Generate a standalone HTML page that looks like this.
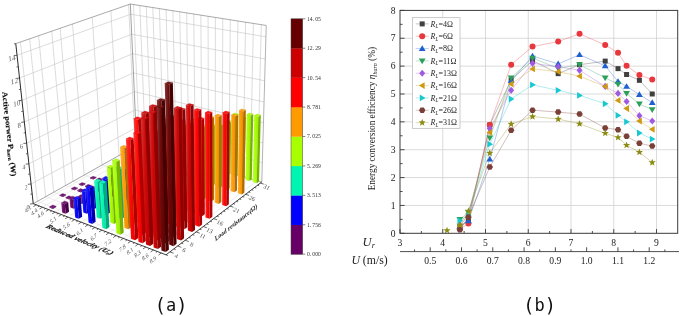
<!DOCTYPE html>
<html><head><meta charset="utf-8"><title>Figure</title>
<style>html,body{margin:0;padding:0;background:#fff}svg{display:block}</style>
</head><body>
<svg width="685" height="316" viewBox="0 0 685 316">
<defs>
<linearGradient id="g0" x1="0" x2="1" y1="0" y2="0"><stop offset="0" stop-color="#883888"/><stop offset="0.45" stop-color="#6c0a6c"/><stop offset="1" stop-color="#5e005e"/></linearGradient>
<linearGradient id="g1" x1="0" x2="1" y1="0" y2="0"><stop offset="0" stop-color="#3838ff"/><stop offset="0.45" stop-color="#0a0aff"/><stop offset="1" stop-color="#0000eb"/></linearGradient>
<linearGradient id="g2" x1="0" x2="1" y1="0" y2="0"><stop offset="0" stop-color="#38f8c1"/><stop offset="0.45" stop-color="#0af6b3"/><stop offset="1" stop-color="#00e2a2"/></linearGradient>
<linearGradient id="g3" x1="0" x2="1" y1="0" y2="0"><stop offset="0" stop-color="#bbff38"/><stop offset="0.45" stop-color="#abff0a"/><stop offset="1" stop-color="#9beb00"/></linearGradient>
<linearGradient id="g4" x1="0" x2="1" y1="0" y2="0"><stop offset="0" stop-color="#ffb038"/><stop offset="0.45" stop-color="#ff9e0a"/><stop offset="1" stop-color="#eb8e00"/></linearGradient>
<linearGradient id="g5" x1="0" x2="1" y1="0" y2="0"><stop offset="0" stop-color="#ff3838"/><stop offset="0.45" stop-color="#ff0a0a"/><stop offset="1" stop-color="#eb0000"/></linearGradient>
<linearGradient id="g6" x1="0" x2="1" y1="0" y2="0"><stop offset="0" stop-color="#d73838"/><stop offset="0.45" stop-color="#ce0a0a"/><stop offset="1" stop-color="#bc0000"/></linearGradient>
<linearGradient id="g7" x1="0" x2="1" y1="0" y2="0"><stop offset="0" stop-color="#883838"/><stop offset="0.45" stop-color="#6c0a0a"/><stop offset="1" stop-color="#5e0000"/></linearGradient>
</defs>
<rect width="685" height="316" fill="#fff"/>
<g fill="none">
<line x1="37.42" y1="201.35" x2="169.95" y2="251.85" stroke="#dcdcdc" stroke-width="0.5"/>
<line x1="45.63" y1="196.74" x2="177.67" y2="245.98" stroke="#dcdcdc" stroke-width="0.5"/>
<line x1="53.67" y1="192.22" x2="185.21" y2="240.25" stroke="#dcdcdc" stroke-width="0.5"/>
<line x1="65.41" y1="185.61" x2="196.17" y2="231.91" stroke="#dcdcdc" stroke-width="0.5"/>
<line x1="73.03" y1="181.33" x2="203.27" y2="226.51" stroke="#dcdcdc" stroke-width="0.5"/>
<line x1="84.18" y1="175.06" x2="213.61" y2="218.65" stroke="#dcdcdc" stroke-width="0.5"/>
<line x1="102.01" y1="165.03" x2="230.06" y2="206.13" stroke="#dcdcdc" stroke-width="0.5"/>
<line x1="118.98" y1="155.49" x2="245.62" y2="194.3" stroke="#dcdcdc" stroke-width="0.5"/>
<line x1="135.14" y1="146.41" x2="260.35" y2="183.09" stroke="#dcdcdc" stroke-width="0.5"/>
<line x1="36.28" y1="204.87" x2="139.62" y2="146.37" stroke="#dcdcdc" stroke-width="0.5"/>
<line x1="42.45" y1="207.25" x2="145.54" y2="148.1" stroke="#dcdcdc" stroke-width="0.5"/>
<line x1="48.71" y1="209.66" x2="151.52" y2="149.84" stroke="#dcdcdc" stroke-width="0.5"/>
<line x1="55.04" y1="212.1" x2="157.57" y2="151.61" stroke="#dcdcdc" stroke-width="0.5"/>
<line x1="61.46" y1="214.57" x2="163.68" y2="153.39" stroke="#dcdcdc" stroke-width="0.5"/>
<line x1="67.97" y1="217.08" x2="169.87" y2="155.19" stroke="#dcdcdc" stroke-width="0.5"/>
<line x1="74.56" y1="219.61" x2="176.13" y2="157.02" stroke="#dcdcdc" stroke-width="0.5"/>
<line x1="81.24" y1="222.19" x2="182.46" y2="158.87" stroke="#dcdcdc" stroke-width="0.5"/>
<line x1="88.01" y1="224.8" x2="188.87" y2="160.74" stroke="#dcdcdc" stroke-width="0.5"/>
<line x1="94.88" y1="227.44" x2="195.35" y2="162.63" stroke="#dcdcdc" stroke-width="0.5"/>
<line x1="101.84" y1="230.12" x2="201.91" y2="164.54" stroke="#dcdcdc" stroke-width="0.5"/>
<line x1="108.9" y1="232.84" x2="208.55" y2="166.48" stroke="#dcdcdc" stroke-width="0.5"/>
<line x1="116.05" y1="235.6" x2="215.26" y2="168.44" stroke="#dcdcdc" stroke-width="0.5"/>
<line x1="123.31" y1="238.39" x2="222.06" y2="170.42" stroke="#dcdcdc" stroke-width="0.5"/>
<line x1="130.67" y1="241.23" x2="228.94" y2="172.43" stroke="#dcdcdc" stroke-width="0.5"/>
<line x1="138.14" y1="244.11" x2="235.9" y2="174.46" stroke="#dcdcdc" stroke-width="0.5"/>
<line x1="145.71" y1="247.02" x2="242.95" y2="176.51" stroke="#dcdcdc" stroke-width="0.5"/>
<line x1="153.4" y1="249.98" x2="250.09" y2="178.6" stroke="#dcdcdc" stroke-width="0.5"/>
<line x1="161.2" y1="252.99" x2="257.31" y2="180.7" stroke="#dcdcdc" stroke-width="0.5"/>
<line x1="37.42" y1="201.35" x2="20.44" y2="42.01" stroke="#c4c4c4" stroke-width="0.6"/>
<line x1="45.63" y1="196.74" x2="29.64" y2="38.83" stroke="#c4c4c4" stroke-width="0.6"/>
<line x1="53.67" y1="192.22" x2="38.62" y2="35.73" stroke="#c4c4c4" stroke-width="0.6"/>
<line x1="65.41" y1="185.61" x2="51.7" y2="31.2" stroke="#c4c4c4" stroke-width="0.6"/>
<line x1="73.03" y1="181.33" x2="60.17" y2="28.27" stroke="#c4c4c4" stroke-width="0.6"/>
<line x1="84.18" y1="175.06" x2="72.53" y2="24" stroke="#c4c4c4" stroke-width="0.6"/>
<line x1="102.01" y1="165.03" x2="92.24" y2="17.19" stroke="#c4c4c4" stroke-width="0.6"/>
<line x1="118.98" y1="155.49" x2="110.9" y2="10.74" stroke="#c4c4c4" stroke-width="0.6"/>
<line x1="135.14" y1="146.41" x2="128.61" y2="4.61" stroke="#c4c4c4" stroke-width="0.6"/>
<line x1="31.09" y1="184.01" x2="135.92" y2="127.92" stroke="#c4c4c4" stroke-width="0.6"/>
<line x1="28.89" y1="163.84" x2="135.11" y2="109.94" stroke="#c4c4c4" stroke-width="0.6"/>
<line x1="26.64" y1="143.18" x2="134.28" y2="91.59" stroke="#c4c4c4" stroke-width="0.6"/>
<line x1="24.33" y1="122.01" x2="133.43" y2="72.85" stroke="#c4c4c4" stroke-width="0.6"/>
<line x1="21.96" y1="100.32" x2="132.57" y2="53.71" stroke="#c4c4c4" stroke-width="0.6"/>
<line x1="19.53" y1="78.07" x2="131.69" y2="34.16" stroke="#c4c4c4" stroke-width="0.6"/>
<line x1="17.04" y1="55.25" x2="130.79" y2="14.18" stroke="#c4c4c4" stroke-width="0.6"/>
<line x1="139.62" y1="146.37" x2="133.47" y2="4.51" stroke="#c4c4c4" stroke-width="0.6"/>
<line x1="145.54" y1="148.1" x2="139.83" y2="5.52" stroke="#c4c4c4" stroke-width="0.6"/>
<line x1="151.52" y1="149.84" x2="146.28" y2="6.53" stroke="#c4c4c4" stroke-width="0.6"/>
<line x1="157.57" y1="151.61" x2="152.81" y2="7.56" stroke="#c4c4c4" stroke-width="0.6"/>
<line x1="163.68" y1="153.39" x2="159.41" y2="8.61" stroke="#c4c4c4" stroke-width="0.6"/>
<line x1="169.87" y1="155.19" x2="166.1" y2="9.66" stroke="#c4c4c4" stroke-width="0.6"/>
<line x1="176.13" y1="157.02" x2="172.88" y2="10.73" stroke="#c4c4c4" stroke-width="0.6"/>
<line x1="182.46" y1="158.87" x2="179.74" y2="11.81" stroke="#c4c4c4" stroke-width="0.6"/>
<line x1="188.87" y1="160.74" x2="186.68" y2="12.91" stroke="#c4c4c4" stroke-width="0.6"/>
<line x1="195.35" y1="162.63" x2="193.72" y2="14.02" stroke="#c4c4c4" stroke-width="0.6"/>
<line x1="201.91" y1="164.54" x2="200.85" y2="15.14" stroke="#c4c4c4" stroke-width="0.6"/>
<line x1="208.55" y1="166.48" x2="208.07" y2="16.28" stroke="#c4c4c4" stroke-width="0.6"/>
<line x1="215.26" y1="168.44" x2="215.38" y2="17.43" stroke="#c4c4c4" stroke-width="0.6"/>
<line x1="222.06" y1="170.42" x2="222.79" y2="18.6" stroke="#c4c4c4" stroke-width="0.6"/>
<line x1="228.94" y1="172.43" x2="230.3" y2="19.79" stroke="#c4c4c4" stroke-width="0.6"/>
<line x1="235.9" y1="174.46" x2="237.9" y2="20.99" stroke="#c4c4c4" stroke-width="0.6"/>
<line x1="242.95" y1="176.51" x2="245.61" y2="22.2" stroke="#c4c4c4" stroke-width="0.6"/>
<line x1="250.09" y1="178.6" x2="253.43" y2="23.44" stroke="#c4c4c4" stroke-width="0.6"/>
<line x1="257.31" y1="180.7" x2="261.35" y2="24.68" stroke="#c4c4c4" stroke-width="0.6"/>
<line x1="135.92" y1="127.92" x2="262.33" y2="162.69" stroke="#c4c4c4" stroke-width="0.6"/>
<line x1="135.11" y1="109.94" x2="262.89" y2="142.93" stroke="#c4c4c4" stroke-width="0.6"/>
<line x1="134.28" y1="91.59" x2="263.47" y2="122.71" stroke="#c4c4c4" stroke-width="0.6"/>
<line x1="133.43" y1="72.85" x2="264.06" y2="102" stroke="#c4c4c4" stroke-width="0.6"/>
<line x1="132.57" y1="53.71" x2="264.66" y2="80.79" stroke="#c4c4c4" stroke-width="0.6"/>
<line x1="131.69" y1="34.16" x2="265.28" y2="59.06" stroke="#c4c4c4" stroke-width="0.6"/>
<line x1="130.79" y1="14.18" x2="265.92" y2="36.8" stroke="#c4c4c4" stroke-width="0.6"/>
<line x1="15.77" y1="43.63" x2="130.33" y2="4.02" stroke="#707070" stroke-width="0.6"/>
<line x1="130.33" y1="4.02" x2="266.24" y2="25.46" stroke="#707070" stroke-width="0.6"/>
<line x1="136.71" y1="145.52" x2="130.33" y2="4.02" stroke="#707070" stroke-width="0.65"/>
<line x1="261.78" y1="182" x2="266.24" y2="25.46" stroke="#909090" stroke-width="0.7"/>
<line x1="33.24" y1="203.7" x2="136.71" y2="145.52" stroke="#7c7c7c" stroke-width="0.7"/>
<line x1="136.71" y1="145.52" x2="261.78" y2="182" stroke="#909090" stroke-width="0.7"/>
</g>
<polygon points="141.06,149.25 144.32,150.21 144.3,149.68 141.04,148.73" fill="url(#g0)"/>
<polygon points="144.32,150.21 146.88,148.74 146.85,148.21 144.3,149.68" fill="#470047"/>
<polygon points="141.04,148.73 144.3,149.68 146.85,148.21 143.6,147.26" fill="#751a75" stroke="#520052" stroke-width="0.25"/>
<polygon points="147.04,151.01 150.33,151.98 150.29,150.98 147,150.02" fill="url(#g0)"/>
<polygon points="150.33,151.98 152.88,150.49 152.84,149.5 150.29,150.98" fill="#470047"/>
<polygon points="147,150.02 150.29,150.98 152.84,149.5 149.55,148.54" fill="#751a75" stroke="#520052" stroke-width="0.25"/>
<polygon points="159.18,154.58 162.55,155.57 162.36,149.26 158.98,148.29" fill="url(#g0)"/>
<polygon points="162.55,155.57 165.08,154.05 164.9,147.76 162.36,149.26" fill="#470047"/>
<polygon points="158.98,148.29 162.36,149.26 164.9,147.76 161.53,146.8" fill="#751a75" stroke="#520052" stroke-width="0.25"/>
<polygon points="124.9,158.49 128.19,159.5 128.16,158.96 124.87,157.96" fill="url(#g0)"/>
<polygon points="128.19,159.5 130.87,157.96 130.84,157.42 128.16,158.96" fill="#470047"/>
<polygon points="124.87,157.96 128.16,158.96 130.84,157.42 127.56,156.42" fill="#751a75" stroke="#520052" stroke-width="0.25"/>
<polygon points="171.61,158.24 175.06,159.25 174.8,147.73 171.33,146.75" fill="url(#g0)"/>
<polygon points="175.06,159.25 177.57,157.7 177.32,146.22 174.8,147.73" fill="#470047"/>
<polygon points="171.33,146.75 174.8,147.73 177.32,146.22 173.86,145.24" fill="#751a75" stroke="#520052" stroke-width="0.25"/>
<polygon points="130.93,160.35 134.25,161.37 134.21,160.63 130.89,159.61" fill="url(#g0)"/>
<polygon points="134.25,161.37 136.92,159.81 136.89,159.07 134.21,160.63" fill="#470047"/>
<polygon points="130.89,159.61 134.21,160.63 136.89,159.07 133.57,158.06" fill="#751a75" stroke="#520052" stroke-width="0.25"/>
<polygon points="184.34,161.98 187.87,163.02 187.57,144.04 184.01,143.05" fill="url(#g1)"/>
<polygon points="187.87,163.02 190.35,161.43 190.09,142.51 187.57,144.04" fill="#0000b2"/>
<polygon points="184.01,143.05 187.57,144.04 190.09,142.51 186.53,141.53" fill="#1a1aff" stroke="#0000cc" stroke-width="0.25"/>
<polygon points="143.19,164.12 146.59,165.16 146.38,159.85 142.97,158.82" fill="url(#g0)"/>
<polygon points="146.59,165.16 149.25,163.57 149.04,158.27 146.38,159.85" fill="#470047"/>
<polygon points="142.97,158.82 146.38,159.85 149.04,158.27 145.64,157.25" fill="#751a75" stroke="#520052" stroke-width="0.25"/>
<polygon points="107.93,168.2 111.24,169.26 111.2,168.71 107.89,167.65" fill="url(#g0)"/>
<polygon points="111.24,169.26 114.06,167.64 114.03,167.09 111.2,168.71" fill="#470047"/>
<polygon points="107.89,167.65 111.2,168.71 114.03,167.09 110.72,166.04" fill="#751a75" stroke="#520052" stroke-width="0.25"/>
<polygon points="197.36,165.81 200.98,166.87 200.76,138.14 197.08,137.15" fill="url(#g1)"/>
<polygon points="200.98,166.87 203.44,165.25 203.26,136.61 200.76,138.14" fill="#0000b2"/>
<polygon points="197.08,137.15 200.76,138.14 203.26,136.61 199.59,135.63" fill="#1a1aff" stroke="#0000cc" stroke-width="0.25"/>
<polygon points="155.74,167.98 159.23,169.05 158.87,157.97 155.36,156.93" fill="url(#g0)"/>
<polygon points="159.23,169.05 161.86,167.42 161.52,156.38 158.87,157.97" fill="#470047"/>
<polygon points="155.36,156.93 158.87,157.97 161.52,156.38 158.02,155.34" fill="#751a75" stroke="#520052" stroke-width="0.25"/>
<polygon points="114,170.15 117.35,171.23 117.31,170.39 113.95,169.32" fill="url(#g0)"/>
<polygon points="117.35,171.23 120.17,169.59 120.12,168.75 117.31,170.39" fill="#470047"/>
<polygon points="113.95,169.32 117.31,170.39 120.12,168.75 116.77,167.69" fill="#751a75" stroke="#520052" stroke-width="0.25"/>
<polygon points="210.7,169.73 214.4,170.82 214.41,131.82 210.63,130.84" fill="url(#g2)"/>
<polygon points="214.4,170.82 216.84,169.16 216.9,130.29 214.41,131.82" fill="#00ac7b"/>
<polygon points="210.63,130.84 214.41,131.82 216.9,130.29 213.12,129.32" fill="#1af7b8" stroke="#00c58d" stroke-width="0.25"/>
<polygon points="168.6,171.93 172.17,173.03 171.66,152.6 168.05,151.56" fill="url(#g1)"/>
<polygon points="172.17,173.03 174.78,171.36 174.31,151 171.66,152.6" fill="#0000b2"/>
<polygon points="168.05,151.56 171.66,152.6 174.31,151 170.71,149.96" fill="#1a1aff" stroke="#0000cc" stroke-width="0.25"/>
<polygon points="126.38,174.14 129.81,175.25 129.44,167.95 126,166.87" fill="url(#g0)"/>
<polygon points="129.81,175.25 132.6,173.57 132.25,166.3 129.44,167.95" fill="#470047"/>
<polygon points="126,166.87 129.44,167.95 132.25,166.3 128.81,165.22" fill="#751a75" stroke="#520052" stroke-width="0.25"/>
<polygon points="90.08,178.4 93.41,179.53 93.37,178.97 90.03,177.84" fill="url(#g0)"/>
<polygon points="93.41,179.53 96.38,177.82 96.34,177.26 93.37,178.97" fill="#470047"/>
<polygon points="90.03,177.84 93.37,178.97 96.34,177.26 93.01,176.15" fill="#751a75" stroke="#520052" stroke-width="0.25"/>
<polygon points="224.36,173.75 228.16,174.86 228.59,123.45 224.68,122.47" fill="url(#g3)"/>
<polygon points="228.16,174.86 230.56,173.17 231.07,121.93 228.59,123.45" fill="#76b200"/>
<polygon points="224.68,122.47 228.59,123.45 231.07,121.93 227.17,120.96" fill="#b1ff1a" stroke="#86cc00" stroke-width="0.25"/>
<polygon points="181.77,175.98 185.43,177.11 184.9,145.97 181.18,144.93" fill="url(#g1)"/>
<polygon points="185.43,177.11 188.02,175.4 187.54,144.37 184.9,145.97" fill="#0000b2"/>
<polygon points="181.18,144.93 184.9,145.97 187.54,144.37 183.82,143.34" fill="#1a1aff" stroke="#0000cc" stroke-width="0.25"/>
<polygon points="139.05,178.22 142.57,179.36 141.94,164.61 138.39,163.52" fill="url(#g0)"/>
<polygon points="142.57,179.36 145.34,177.64 144.74,162.94 141.94,164.61" fill="#470047"/>
<polygon points="138.39,163.52 141.94,164.61 144.74,162.94 141.2,161.86" fill="#751a75" stroke="#520052" stroke-width="0.25"/>
<polygon points="96.2,180.47 99.58,181.61 99.52,180.69 96.14,179.55" fill="url(#g0)"/>
<polygon points="99.58,181.61 102.54,179.89 102.48,178.97 99.52,180.69" fill="#470047"/>
<polygon points="96.14,179.55 99.52,180.69 102.48,178.97 99.1,177.84" fill="#751a75" stroke="#520052" stroke-width="0.25"/>
<polygon points="231.32,175.79 235.16,176.92 235.94,115.38 231.95,114.43" fill="url(#g3)"/>
<polygon points="235.16,176.92 237.55,175.21 238.41,113.88 235.94,115.38" fill="#76b200"/>
<polygon points="231.95,114.43 235.94,115.38 238.41,113.88 234.44,112.93" fill="#b1ff1a" stroke="#86cc00" stroke-width="0.25"/>
<polygon points="238.36,177.86 242.25,179.01 243.26,118.86 239.24,117.88" fill="url(#g3)"/>
<polygon points="242.25,179.01 244.63,177.28 245.72,117.33 243.26,118.86" fill="#76b200"/>
<polygon points="239.24,117.88 243.26,118.86 245.72,117.33 241.7,116.37" fill="#b1ff1a" stroke="#86cc00" stroke-width="0.25"/>
<polygon points="195.27,180.13 199.01,181.28 198.62,137.85 194.78,136.82" fill="url(#g2)"/>
<polygon points="199.01,181.28 201.58,179.54 201.26,136.25 198.62,137.85" fill="#00ac7b"/>
<polygon points="194.78,136.82 198.62,137.85 201.26,136.25 197.42,135.23" fill="#1af7b8" stroke="#00c58d" stroke-width="0.25"/>
<polygon points="78.92,184.78 82.27,185.95 82.23,185.38 78.87,184.22" fill="url(#g0)"/>
<polygon points="82.27,185.95 85.33,184.18 85.29,183.62 82.23,185.38" fill="#470047"/>
<polygon points="78.87,184.22 82.23,185.38 85.29,183.62 81.94,182.46" fill="#751a75" stroke="#520052" stroke-width="0.25"/>
<polygon points="152.04,182.41 155.64,183.57 154.76,158.37 151.11,157.28" fill="url(#g1)"/>
<polygon points="155.64,183.57 158.4,181.81 157.56,156.7 154.76,158.37" fill="#0000b2"/>
<polygon points="151.11,157.28 154.76,158.37 157.56,156.7 153.91,155.62" fill="#1a1aff" stroke="#0000cc" stroke-width="0.25"/>
<polygon points="108.68,184.69 112.14,185.86 111.63,177.44 108.15,176.29" fill="url(#g0)"/>
<polygon points="112.14,185.86 115.08,184.09 114.59,175.7 111.63,177.44" fill="#470047"/>
<polygon points="108.15,176.29 111.63,177.44 114.59,175.7 111.12,174.56" fill="#751a75" stroke="#520052" stroke-width="0.25"/>
<polygon points="245.49,179.96 249.43,181.12 250.82,115.45 246.72,114.48" fill="url(#g3)"/>
<polygon points="249.43,181.12 251.79,179.37 253.26,113.93 250.82,115.45" fill="#76b200"/>
<polygon points="246.72,114.48 250.82,115.45 253.26,113.93 249.18,112.97" fill="#b1ff1a" stroke="#86cc00" stroke-width="0.25"/>
<polygon points="85.07,186.92 88.46,188.11 88.4,187.31 85.01,186.13" fill="url(#g0)"/>
<polygon points="88.46,188.11 91.52,186.32 91.46,185.52 88.4,187.31" fill="#470047"/>
<polygon points="85.01,186.13 88.4,187.31 91.46,185.52 88.07,184.35" fill="#751a75" stroke="#520052" stroke-width="0.25"/>
<polygon points="71.28,189.15 74.64,190.34 74.59,189.76 71.23,188.56" fill="url(#g0)"/>
<polygon points="74.64,190.34 77.77,188.54 77.72,187.96 74.59,189.76" fill="#470047"/>
<polygon points="71.23,188.56 74.59,189.76 77.72,187.96 74.36,186.77" fill="#751a75" stroke="#520052" stroke-width="0.25"/>
<polygon points="252.71,182.08 256.7,183.25 258.4,116.63 254.25,115.65" fill="url(#g3)"/>
<polygon points="256.7,183.25 259.04,181.48 260.82,115.09 258.4,116.63" fill="#76b200"/>
<polygon points="254.25,115.65 258.4,116.63 260.82,115.09 256.69,114.11" fill="#b1ff1a" stroke="#86cc00" stroke-width="0.25"/>
<polygon points="209.1,184.39 212.94,185.57 212.9,126.14 208.93,125.12" fill="url(#g3)"/>
<polygon points="212.94,185.57 215.47,183.78 215.53,124.56 212.9,126.14" fill="#76b200"/>
<polygon points="208.93,125.12 212.9,126.14 215.53,124.56 211.56,123.55" fill="#b1ff1a" stroke="#86cc00" stroke-width="0.25"/>
<polygon points="165.35,186.7 169.05,187.89 168.04,150.29 164.26,149.2" fill="url(#g2)"/>
<polygon points="169.05,187.89 171.78,186.09 170.83,148.62 168.04,150.29" fill="#00ac7b"/>
<polygon points="164.26,149.2 168.04,150.29 170.83,148.62 167.06,147.54" fill="#1af7b8" stroke="#00c58d" stroke-width="0.25"/>
<polygon points="121.47,189.02 125.02,190.22 124.13,173.46 120.54,172.31" fill="url(#g0)"/>
<polygon points="125.02,190.22 127.94,188.41 127.08,171.71 124.13,173.46" fill="#470047"/>
<polygon points="120.54,172.31 124.13,173.46 127.08,171.71 123.51,170.57" fill="#751a75" stroke="#520052" stroke-width="0.25"/>
<polygon points="77.45,191.34 80.86,192.55 80.78,191.54 77.37,190.33" fill="url(#g0)"/>
<polygon points="80.86,192.55 83.98,190.73 83.9,189.72 80.78,191.54" fill="#470047"/>
<polygon points="77.37,190.33 80.78,191.54 83.9,189.72 80.5,188.53" fill="#751a75" stroke="#520052" stroke-width="0.25"/>
<polygon points="216.14,186.55 220.03,187.75 220.26,126.21 216.23,125.19" fill="url(#g3)"/>
<polygon points="220.03,187.75 222.55,185.95 222.87,124.62 220.26,126.21" fill="#76b200"/>
<polygon points="216.23,125.19 220.26,126.21 222.87,124.62 218.85,123.61" fill="#b1ff1a" stroke="#86cc00" stroke-width="0.25"/>
<polygon points="97.61,191.29 101.09,192.5 100.49,183.65 96.99,182.46" fill="url(#g0)"/>
<polygon points="101.09,192.5 104.13,190.68 103.54,181.85 100.49,183.65" fill="#470047"/>
<polygon points="96.99,182.46 100.49,183.65 103.54,181.85 100.05,180.68" fill="#751a75" stroke="#520052" stroke-width="0.25"/>
<polygon points="223.28,188.75 227.22,189.96 227.76,122.06 223.66,121.04" fill="url(#g3)"/>
<polygon points="227.22,189.96 229.72,188.13 230.36,120.47 227.76,122.06" fill="#76b200"/>
<polygon points="223.66,121.04 227.76,122.06 230.36,120.47 226.27,119.46" fill="#b1ff1a" stroke="#86cc00" stroke-width="0.25"/>
<polygon points="179,191.1 182.79,192.32 181.83,140.82 177.92,139.74" fill="url(#g2)"/>
<polygon points="182.79,192.32 185.49,190.48 184.62,139.16 181.83,140.82" fill="#00ac7b"/>
<polygon points="177.92,139.74 181.83,140.82 184.62,139.16 180.72,138.09" fill="#1af7b8" stroke="#00c58d" stroke-width="0.25"/>
<polygon points="59.52,195.87 62.89,197.11 62.84,196.53 59.47,195.29" fill="url(#g0)"/>
<polygon points="62.89,197.11 66.12,195.25 66.07,194.67 62.84,196.53" fill="#470047"/>
<polygon points="59.47,195.29 62.84,196.53 66.07,194.67 62.7,193.45" fill="#751a75" stroke="#520052" stroke-width="0.25"/>
<polygon points="134.58,193.45 138.22,194.68 136.93,166.16 133.23,165.01" fill="url(#g1)"/>
<polygon points="138.22,194.68 141.13,192.83 139.88,164.41 136.93,166.16" fill="#0000b2"/>
<polygon points="133.23,165.01 136.93,166.16 139.88,164.41 136.19,163.27" fill="#1a1aff" stroke="#0000cc" stroke-width="0.25"/>
<polygon points="90.03,195.81 93.52,197.05 92.93,188.94 89.42,187.72" fill="url(#g0)"/>
<polygon points="93.52,197.05 96.62,195.19 96.05,187.1 92.93,188.94" fill="#470047"/>
<polygon points="89.42,187.72 92.93,188.94 96.05,187.1 92.55,185.89" fill="#751a75" stroke="#520052" stroke-width="0.25"/>
<polygon points="230.51,190.97 234.5,192.2 235.43,116.58 231.26,115.57" fill="url(#g4)"/>
<polygon points="234.5,192.2 236.98,190.35 238.03,114.99 235.43,116.58" fill="#b26c00"/>
<polygon points="231.26,115.57 235.43,116.58 238.03,114.99 233.86,114" fill="#ffa41a" stroke="#cc7b00" stroke-width="0.25"/>
<polygon points="110.46,195.77 114.03,197.01 113.06,180.79 109.46,179.59" fill="url(#g0)"/>
<polygon points="114.03,197.01 117.05,195.14 116.11,178.98 113.06,180.79" fill="#470047"/>
<polygon points="109.46,179.59 113.06,180.79 116.11,178.98 112.51,177.79" fill="#751a75" stroke="#520052" stroke-width="0.25"/>
<polygon points="65.71,198.14 69.13,199.4 69.08,198.78 65.66,197.53" fill="url(#g0)"/>
<polygon points="69.13,199.4 72.36,197.51 72.3,196.9 69.08,198.78" fill="#470047"/>
<polygon points="65.66,197.53 69.08,198.78 72.3,196.9 68.89,195.66" fill="#751a75" stroke="#520052" stroke-width="0.25"/>
<polygon points="237.83,193.22 241.87,194.46 243.26,111.47 239.01,110.47" fill="url(#g4)"/>
<polygon points="241.87,194.46 244.34,192.6 245.85,109.9 243.26,111.47" fill="#b26c00"/>
<polygon points="239.01,110.47 243.26,111.47 245.85,109.9 241.61,108.91" fill="#ffa41a" stroke="#cc7b00" stroke-width="0.25"/>
<polygon points="193,195.61 196.89,196.86 196.17,126.76 192.12,125.71" fill="url(#g3)"/>
<polygon points="196.89,196.86 199.56,194.98 198.96,125.12 196.17,126.76" fill="#76b200"/>
<polygon points="192.12,125.71 196.17,126.76 198.96,125.12 194.92,124.08" fill="#b1ff1a" stroke="#86cc00" stroke-width="0.25"/>
<polygon points="148.03,198 151.77,199.26 150.14,155.72 146.31,154.59" fill="url(#g2)"/>
<polygon points="151.77,199.26 154.65,197.36 153.1,153.98 150.14,155.72" fill="#00ac7b"/>
<polygon points="146.31,154.59 150.14,155.72 153.1,153.98 149.28,152.85" fill="#1af7b8" stroke="#00c58d" stroke-width="0.25"/>
<polygon points="102.93,200.4 106.51,201.67 105.35,183.86 101.74,182.64" fill="url(#g1)"/>
<polygon points="106.51,201.67 109.59,199.76 108.48,182.01 105.35,183.86" fill="#0000b2"/>
<polygon points="101.74,182.64 105.35,183.86 108.48,182.01 104.87,180.8" fill="#1a1aff" stroke="#0000cc" stroke-width="0.25"/>
<polygon points="123.65,200.36 127.31,201.64 125.75,171.77 122.03,170.58" fill="url(#g1)"/>
<polygon points="127.31,201.64 130.31,199.73 128.81,169.96 125.75,171.77" fill="#0000b2"/>
<polygon points="122.03,170.58 125.75,171.77 128.81,169.96 125.09,168.78" fill="#1a1aff" stroke="#0000cc" stroke-width="0.25"/>
<polygon points="200.14,197.9 204.07,199.17 203.65,127.32 199.54,126.26" fill="url(#g3)"/>
<polygon points="204.07,199.17 206.74,197.27 206.42,125.67 203.65,127.32" fill="#76b200"/>
<polygon points="199.54,126.26 203.65,127.32 206.42,125.67 202.33,124.62" fill="#b1ff1a" stroke="#86cc00" stroke-width="0.25"/>
<polygon points="78.34,202.77 81.85,204.06 81.34,197.68 77.82,196.41" fill="url(#g0)"/>
<polygon points="81.85,204.06 85.06,202.13 84.57,195.77 81.34,197.68" fill="#470047"/>
<polygon points="77.82,196.41 81.34,197.68 84.57,195.77 81.05,194.52" fill="#751a75" stroke="#520052" stroke-width="0.25"/>
<polygon points="207.36,200.23 211.36,201.52 211.23,118.7 207.04,117.66" fill="url(#g4)"/>
<polygon points="211.36,201.52 214,199.59 214,117.06 211.23,118.7" fill="#b26c00"/>
<polygon points="207.04,117.66 211.23,118.7 214,117.06 209.82,116.03" fill="#ffa41a" stroke="#cc7b00" stroke-width="0.25"/>
<polygon points="161.84,202.66 165.67,203.96 163.91,143.76 159.95,142.64" fill="url(#g3)"/>
<polygon points="165.67,203.96 168.52,202.02 166.88,142.03 163.91,143.76" fill="#76b200"/>
<polygon points="159.95,142.64 163.91,143.76 166.88,142.03 162.92,140.92" fill="#b1ff1a" stroke="#86cc00" stroke-width="0.25"/>
<polygon points="49.46,207.56 52.9,208.88 52.83,208.19 49.39,206.87" fill="url(#g0)"/>
<polygon points="52.9,208.88 56.26,206.91 56.2,206.22 52.83,208.19" fill="#470047"/>
<polygon points="49.39,206.87 52.83,208.19 56.2,206.22 52.76,204.92" fill="#751a75" stroke="#520052" stroke-width="0.25"/>
<polygon points="116.16,205.1 119.84,206.41 118.07,175.33 114.33,174.11" fill="url(#g1)"/>
<polygon points="119.84,206.41 122.9,204.45 121.2,173.48 118.07,175.33" fill="#0000b2"/>
<polygon points="114.33,174.11 118.07,175.33 121.2,173.48 117.47,172.27" fill="#1a1aff" stroke="#0000cc" stroke-width="0.25"/>
<polygon points="70.34,207.55 73.86,208.86 73.06,199.44 69.52,198.15" fill="url(#g0)"/>
<polygon points="73.86,208.86 77.14,206.89 76.36,197.5 73.06,199.44" fill="#470047"/>
<polygon points="69.52,198.15 73.06,199.44 76.36,197.5 72.83,196.22" fill="#751a75" stroke="#520052" stroke-width="0.25"/>
<polygon points="137.18,205.08 140.94,206.39 138.93,160.89 135.08,159.71" fill="url(#g2)"/>
<polygon points="140.94,206.39 143.92,204.43 142,159.09 138.93,160.89" fill="#00ac7b"/>
<polygon points="135.08,159.71 138.93,160.89 142,159.09 138.15,157.92" fill="#1af7b8" stroke="#00c58d" stroke-width="0.25"/>
<polygon points="214.69,202.59 218.73,203.9 218.98,116.79 214.73,115.74" fill="url(#g4)"/>
<polygon points="218.73,203.9 221.36,201.94 221.75,115.15 218.98,116.79" fill="#b26c00"/>
<polygon points="214.73,115.74 218.98,116.79 221.75,115.15 217.5,114.11" fill="#ffa41a" stroke="#cc7b00" stroke-width="0.25"/>
<polygon points="91.31,207.53 94.91,208.85 93.63,191.15 89.99,189.88" fill="url(#g1)"/>
<polygon points="94.91,208.85 98.1,206.87 96.86,189.23 93.63,191.15" fill="#0000b2"/>
<polygon points="89.99,189.88 93.63,191.15 96.86,189.23 93.23,187.97" fill="#1a1aff" stroke="#0000cc" stroke-width="0.25"/>
<polygon points="222.11,204.98 226.2,206.3 226.89,113.73 222.56,112.69" fill="url(#g5)"/>
<polygon points="226.2,206.3 228.82,204.33 229.65,112.09 226.89,113.73" fill="#b20000"/>
<polygon points="222.56,112.69 226.89,113.73 229.65,112.09 225.33,111.06" fill="#ff1a1a" stroke="#cc0000" stroke-width="0.25"/>
<polygon points="176,207.45 179.94,208.78 178.25,127.12 174.13,126.03" fill="url(#g4)"/>
<polygon points="179.94,208.78 182.77,206.79 181.23,125.42 178.25,127.12" fill="#b26c00"/>
<polygon points="174.13,126.03 178.25,127.12 181.23,125.42 177.11,124.35" fill="#ffa41a" stroke="#cc7b00" stroke-width="0.25"/>
<polygon points="62.16,212.42 65.69,213.77 64.83,204.27 61.28,202.95" fill="url(#g0)"/>
<polygon points="65.69,213.77 69.04,211.76 68.21,202.29 64.83,204.27" fill="#470047"/>
<polygon points="61.28,202.95 64.83,204.27 68.21,202.29 64.66,200.98" fill="#751a75" stroke="#520052" stroke-width="0.25"/>
<polygon points="129.75,209.93 133.52,211.27 131.3,165.86 127.43,164.65" fill="url(#g2)"/>
<polygon points="133.52,211.27 136.57,209.27 134.44,164.01 131.3,165.86" fill="#00ac7b"/>
<polygon points="127.43,164.65 131.3,165.86 134.44,164.01 130.58,162.81" fill="#1af7b8" stroke="#00c58d" stroke-width="0.25"/>
<polygon points="83.34,212.42 86.95,213.77 85.26,191.86 81.61,190.57" fill="url(#g1)"/>
<polygon points="86.95,213.77 90.22,211.75 88.58,189.91 85.26,191.86" fill="#0000b2"/>
<polygon points="81.61,190.57 85.26,191.86 88.58,189.91 84.93,188.64" fill="#1a1aff" stroke="#0000cc" stroke-width="0.25"/>
<polygon points="151.07,209.92 154.93,211.26 152.66,147.92 148.66,146.76" fill="url(#g3)"/>
<polygon points="154.93,211.26 157.89,209.25 155.74,146.13 152.66,147.92" fill="#76b200"/>
<polygon points="148.66,146.76 152.66,147.92 155.74,146.13 151.75,144.99" fill="#b1ff1a" stroke="#86cc00" stroke-width="0.25"/>
<polygon points="104.61,212.41 108.31,213.76 106.1,179.41 102.34,178.15" fill="url(#g1)"/>
<polygon points="108.31,213.76 111.48,211.74 109.35,177.51 106.1,179.41" fill="#0000b2"/>
<polygon points="102.34,178.15 106.1,179.41 109.35,177.51 105.59,176.26" fill="#1a1aff" stroke="#0000cc" stroke-width="0.25"/>
<polygon points="183.23,209.9 187.21,211.24 185.86,127.95 181.68,126.86" fill="url(#g4)"/>
<polygon points="187.21,211.24 190.03,209.23 188.82,126.24 185.86,127.95" fill="#b26c00"/>
<polygon points="181.68,126.86 185.86,127.95 188.82,126.24 184.65,125.15" fill="#ffa41a" stroke="#cc7b00" stroke-width="0.25"/>
<polygon points="190.55,212.37 194.59,213.74 193.5,121.31 189.24,120.22" fill="url(#g4)"/>
<polygon points="194.59,213.74 197.39,211.7 196.46,119.61 193.5,121.31" fill="#b26c00"/>
<polygon points="189.24,120.22 193.5,121.31 196.46,119.61 192.2,118.53" fill="#ffa41a" stroke="#cc7b00" stroke-width="0.25"/>
<polygon points="75.2,217.41 78.82,218.8 77.23,199.49 73.57,198.15" fill="url(#g1)"/>
<polygon points="78.82,218.8 82.16,216.74 80.61,197.49 77.23,199.49" fill="#0000b2"/>
<polygon points="73.57,198.15 77.23,199.49 80.61,197.49 76.96,196.17" fill="#1a1aff" stroke="#0000cc" stroke-width="0.25"/>
<polygon points="143.7,214.89 147.57,216.27 144.9,150.09 140.88,148.91" fill="url(#g3)"/>
<polygon points="147.57,216.27 150.59,214.21 148.05,148.28 144.9,150.09" fill="#76b200"/>
<polygon points="140.88,148.91 144.9,150.09 148.05,148.28 144.04,147.11" fill="#b1ff1a" stroke="#86cc00" stroke-width="0.25"/>
<polygon points="96.69,217.42 100.4,218.81 97.86,182.16 94.08,180.88" fill="url(#g2)"/>
<polygon points="100.4,218.81 103.65,216.74 101.19,180.22 97.86,182.16" fill="#00ac7b"/>
<polygon points="94.08,180.88 97.86,182.16 101.19,180.22 97.41,178.95" fill="#1af7b8" stroke="#00c58d" stroke-width="0.25"/>
<polygon points="165.34,214.88 169.3,216.27 167.05,133.51 162.9,132.38" fill="url(#g4)"/>
<polygon points="169.3,216.27 172.23,214.21 170.13,131.75 167.05,133.51" fill="#b26c00"/>
<polygon points="162.9,132.38 167.05,133.51 170.13,131.75 165.99,130.63" fill="#ffa41a" stroke="#cc7b00" stroke-width="0.25"/>
<polygon points="118.27,217.42 122.07,218.81 119.3,169.34 115.4,168.09" fill="url(#g2)"/>
<polygon points="122.07,218.81 125.22,216.74 122.56,167.44 119.3,169.34" fill="#00ac7b"/>
<polygon points="115.4,168.09 119.3,169.34 122.56,167.44 118.66,166.21" fill="#1af7b8" stroke="#00c58d" stroke-width="0.25"/>
<polygon points="197.97,214.88 202.06,216.26 201.36,119.85 197.03,118.76" fill="url(#g5)"/>
<polygon points="202.06,216.26 204.84,214.2 204.31,118.14 201.36,119.85" fill="#b20000"/>
<polygon points="197.03,118.76 201.36,119.85 204.31,118.14 199.99,117.06" fill="#ff1a1a" stroke="#cc0000" stroke-width="0.25"/>
<polygon points="172.61,217.42 176.63,218.82 174.6,129.74 170.38,128.61" fill="url(#g4)"/>
<polygon points="176.63,218.82 179.54,216.74 177.68,127.98 174.6,129.74" fill="#b26c00"/>
<polygon points="170.38,128.61 174.6,129.74 177.68,127.98 173.46,126.87" fill="#ffa41a" stroke="#cc7b00" stroke-width="0.25"/>
<polygon points="205.48,217.42 209.64,218.83 209.36,113.85 204.94,112.77" fill="url(#g5)"/>
<polygon points="209.64,218.83 212.4,216.73 212.3,112.15 209.36,113.85" fill="#b20000"/>
<polygon points="204.94,112.77 209.36,113.85 212.3,112.15 207.9,111.08" fill="#ff1a1a" stroke="#cc0000" stroke-width="0.25"/>
<polygon points="88.59,222.54 92.31,223.97 89.67,188.49 85.88,187.17" fill="url(#g1)"/>
<polygon points="92.31,223.97 95.63,221.85 93.08,186.5 89.67,188.49" fill="#0000b2"/>
<polygon points="85.88,187.17 89.67,188.49 93.08,186.5 89.29,185.19" fill="#1a1aff" stroke="#0000cc" stroke-width="0.25"/>
<polygon points="158.02,219.98 162.01,221.4 159.19,132.72 155.01,131.57" fill="url(#g4)"/>
<polygon points="162.01,221.4 165,219.29 162.36,130.94 159.19,132.72" fill="#b26c00"/>
<polygon points="155.01,131.57 159.19,132.72 162.36,130.94 158.18,129.8" fill="#ffa41a" stroke="#cc7b00" stroke-width="0.25"/>
<polygon points="110.4,222.55 114.22,223.98 110.81,168.22 106.88,166.96" fill="url(#g3)"/>
<polygon points="114.22,223.98 117.44,221.86 114.16,166.3 110.81,168.22" fill="#76b200"/>
<polygon points="106.88,166.96 110.81,168.22 114.16,166.3 110.24,165.05" fill="#b1ff1a" stroke="#86cc00" stroke-width="0.25"/>
<polygon points="179.99,219.99 184.06,221.41 182.25,122.17 177.94,121.06" fill="url(#g5)"/>
<polygon points="184.06,221.41 186.96,219.3 185.33,120.43 182.25,122.17" fill="#b20000"/>
<polygon points="177.94,121.06 182.25,122.17 185.33,120.43 181.03,119.33" fill="#ff1a1a" stroke="#cc0000" stroke-width="0.25"/>
<polygon points="132.31,222.56 136.21,223.99 132.82,152.78 128.76,151.56" fill="url(#g3)"/>
<polygon points="136.21,223.99 139.34,221.87 136.1,150.91 132.82,152.78" fill="#76b200"/>
<polygon points="128.76,151.56 132.82,152.78 136.1,150.91 132.05,149.7" fill="#b1ff1a" stroke="#86cc00" stroke-width="0.25"/>
<polygon points="165.33,222.58 169.37,224.02 166.75,127.88 162.49,126.74" fill="url(#g5)"/>
<polygon points="169.37,224.02 172.35,221.88 169.92,126.1 166.75,127.88" fill="#b20000"/>
<polygon points="162.49,126.74 166.75,127.88 169.92,126.1 165.66,124.97" fill="#ff1a1a" stroke="#cc0000" stroke-width="0.25"/>
<polygon points="187.46,222.59 191.59,224.03 190.25,125.59 185.88,124.46" fill="url(#g5)"/>
<polygon points="191.59,224.03 194.47,221.89 193.31,123.82 190.25,125.59" fill="#b20000"/>
<polygon points="185.88,124.46 190.25,125.59 193.31,123.82 188.95,122.7" fill="#ff1a1a" stroke="#cc0000" stroke-width="0.25"/>
<polygon points="102.35,227.81 106.18,229.27 103.17,183.82 99.25,182.49" fill="url(#g2)"/>
<polygon points="106.18,229.27 109.48,227.1 106.58,181.81 103.17,183.82" fill="#00ac7b"/>
<polygon points="99.25,182.49 103.17,183.82 106.58,181.81 102.66,180.5" fill="#1af7b8" stroke="#00c58d" stroke-width="0.25"/>
<polygon points="172.74,225.22 176.84,226.67 174.41,119.98 170.06,118.86" fill="url(#g5)"/>
<polygon points="176.84,226.67 179.8,224.51 177.58,118.22 174.41,119.98" fill="#b20000"/>
<polygon points="170.06,118.86 174.41,119.98 177.58,118.22 173.24,117.11" fill="#ff1a1a" stroke="#cc0000" stroke-width="0.25"/>
<polygon points="124.49,227.83 128.41,229.3 124.16,148.36 120.07,147.14" fill="url(#g4)"/>
<polygon points="128.41,229.3 131.61,227.12 127.54,146.48 124.16,148.36" fill="#b26c00"/>
<polygon points="120.07,147.14 124.16,148.36 127.54,146.48 123.45,145.28" fill="#ffa41a" stroke="#cc7b00" stroke-width="0.25"/>
<polygon points="195.04,225.23 199.23,226.69 198.19,111.21 193.71,110.11" fill="url(#g5)"/>
<polygon points="199.23,226.69 202.09,224.53 201.26,109.48 198.19,111.21" fill="#b20000"/>
<polygon points="193.71,110.11 198.19,111.21 201.26,109.48 196.79,108.4" fill="#ff1a1a" stroke="#cc0000" stroke-width="0.25"/>
<polygon points="146.73,227.85 150.74,229.32 146.97,132.09 142.73,130.92" fill="url(#g5)"/>
<polygon points="150.74,229.32 153.84,227.14 150.27,130.27 146.97,132.09" fill="#b20000"/>
<polygon points="142.73,130.92 146.97,132.09 150.27,130.27 146.05,129.11" fill="#ff1a1a" stroke="#cc0000" stroke-width="0.25"/>
<polygon points="180.26,227.89 184.41,229.36 182.25,110.5 177.81,109.4" fill="url(#g6)"/>
<polygon points="184.41,229.36 187.36,227.17 185.43,108.76 182.25,110.5" fill="#8f0000"/>
<polygon points="177.81,109.4 182.25,110.5 185.43,108.76 180.99,107.68" fill="#d11a1a" stroke="#a30000" stroke-width="0.25"/>
<polygon points="154.09,230.55 158.16,232.04 154.75,132.64 150.45,131.46" fill="url(#g5)"/>
<polygon points="158.16,232.04 161.24,229.83 158.04,130.8 154.75,132.64" fill="#b20000"/>
<polygon points="150.45,131.46 154.75,132.64 158.04,130.8 153.75,129.63" fill="#ff1a1a" stroke="#cc0000" stroke-width="0.25"/>
<polygon points="116.5,233.22 120.43,234.73 116.24,161.93 112.14,160.65" fill="url(#g3)"/>
<polygon points="120.43,234.73 123.71,232.5 119.68,159.97 116.24,161.93" fill="#76b200"/>
<polygon points="112.14,160.65 116.24,161.93 119.68,159.97 115.59,158.7" fill="#b1ff1a" stroke="#86cc00" stroke-width="0.25"/>
<polygon points="187.88,230.6 192.09,232.09 190.39,106.29 185.87,105.19" fill="url(#g6)"/>
<polygon points="192.09,232.09 195.02,229.88 193.56,104.55 190.39,106.29" fill="#8f0000"/>
<polygon points="185.87,105.19 190.39,106.29 193.56,104.55 189.05,103.47" fill="#d11a1a" stroke="#a30000" stroke-width="0.25"/>
<polygon points="138.98,233.25 143.01,234.76 137.98,119.72 133.69,118.58" fill="url(#g5)"/>
<polygon points="143.01,234.76 146.18,232.53 141.4,117.93 137.98,119.72" fill="#b20000"/>
<polygon points="133.69,118.58 137.98,119.72 141.4,117.93 137.12,116.8" fill="#ff1a1a" stroke="#cc0000" stroke-width="0.25"/>
<polygon points="161.56,233.29 165.68,234.8 162.29,120.85 157.89,119.7" fill="url(#g5)"/>
<polygon points="165.68,234.8 168.75,232.56 165.6,119.05 162.29,120.85" fill="#b20000"/>
<polygon points="157.89,119.7 162.29,120.85 165.6,119.05 161.21,117.91" fill="#ff1a1a" stroke="#cc0000" stroke-width="0.25"/>
<polygon points="146.37,236.02 150.46,237.56 145.62,114.02 141.24,112.88" fill="url(#g6)"/>
<polygon points="150.46,237.56 153.62,235.29 149.04,112.23 145.62,114.02" fill="#8f0000"/>
<polygon points="141.24,112.88 145.62,114.02 149.04,112.23 144.68,111.11" fill="#d11a1a" stroke="#a30000" stroke-width="0.25"/>
<polygon points="169.13,236.07 173.31,237.6 170.29,117.37 165.82,116.22" fill="url(#g6)"/>
<polygon points="173.31,237.6 176.36,235.33 173.59,115.57 170.29,117.37" fill="#8f0000"/>
<polygon points="165.82,116.22 170.29,117.37 173.59,115.57 169.12,114.43" fill="#d11a1a" stroke="#a30000" stroke-width="0.25"/>
<polygon points="131.04,238.79 135.09,240.34 130.21,140.19 125.93,138.96" fill="url(#g5)"/>
<polygon points="135.09,240.34 138.34,238.05 133.68,138.28 130.21,140.19" fill="#b20000"/>
<polygon points="125.93,138.96 130.21,140.19 133.68,138.28 129.41,137.06" fill="#ff1a1a" stroke="#cc0000" stroke-width="0.25"/>
<polygon points="153.87,238.83 158.02,240.39 153.42,107.31 148.95,106.19" fill="url(#g6)"/>
<polygon points="158.02,240.39 161.16,238.09 156.84,105.53 153.42,107.31" fill="#8f0000"/>
<polygon points="148.95,106.19 153.42,107.31 156.84,105.53 152.39,104.42" fill="#d11a1a" stroke="#a30000" stroke-width="0.25"/>
<polygon points="176.8,238.88 181.05,240.44 178.38,109.27 173.81,108.14" fill="url(#g6)"/>
<polygon points="181.05,240.44 184.09,238.14 181.68,107.48 178.38,109.27" fill="#8f0000"/>
<polygon points="173.81,108.14 178.38,109.27 181.68,107.48 177.11,106.36" fill="#d11a1a" stroke="#a30000" stroke-width="0.25"/>
<polygon points="138.47,241.63 142.57,243.2 137.75,134.11 133.39,132.89" fill="url(#g5)"/>
<polygon points="142.57,243.2 145.81,240.88 141.23,132.21 137.75,134.11" fill="#b20000"/>
<polygon points="133.39,132.89 137.75,134.11 141.23,132.21 136.88,131" fill="#ff1a1a" stroke="#cc0000" stroke-width="0.25"/>
<polygon points="161.48,241.68 165.68,243.26 161.44,101.3 156.89,100.19" fill="url(#g7)"/>
<polygon points="165.68,243.26 168.81,240.93 164.87,99.54 161.44,101.3" fill="#470000"/>
<polygon points="156.89,100.19 161.44,101.3 164.87,99.54 160.32,98.44" fill="#751a1a" stroke="#520000" stroke-width="0.25"/>
<polygon points="146,244.51 150.17,246.11 145.15,119.41 140.69,118.23" fill="url(#g6)"/>
<polygon points="150.17,246.11 153.39,243.76 148.66,117.56 145.15,119.41" fill="#8f0000"/>
<polygon points="140.69,118.23 145.15,119.41 148.66,117.56 144.2,116.39" fill="#d11a1a" stroke="#a30000" stroke-width="0.25"/>
<polygon points="169.2,244.57 173.46,246.17 169.4,84.41 164.73,83.35" fill="url(#g7)"/>
<polygon points="173.46,246.17 176.57,243.82 172.84,82.71 169.4,84.41" fill="#470000"/>
<polygon points="164.73,83.35 169.4,84.41 172.84,82.71 168.18,81.66" fill="#751a1a" stroke="#520000" stroke-width="0.25"/>
<polygon points="153.65,247.44 157.87,249.06 153.14,113.38 148.58,112.21" fill="url(#g6)"/>
<polygon points="157.87,249.06 161.08,246.68 156.64,111.54 153.14,113.38" fill="#8f0000"/>
<polygon points="148.58,112.21 153.14,113.38 156.64,111.54 152.1,110.38" fill="#d11a1a" stroke="#a30000" stroke-width="0.25"/>
<polygon points="161.4,250.41 165.69,252.05 161.36,107.96 156.71,106.79" fill="url(#g7)"/>
<polygon points="165.69,252.05 168.88,249.63 164.86,106.12 161.36,107.96" fill="#470000"/>
<polygon points="156.71,106.79 161.36,107.96 164.86,106.12 160.22,104.97" fill="#751a1a" stroke="#520000" stroke-width="0.25"/>
<g fill="none">
<line x1="33.24" y1="203.7" x2="15.77" y2="43.63" stroke="#2a2a2a" stroke-width="1"/>
<line x1="33.24" y1="203.7" x2="166.02" y2="254.85" stroke="#2a2a2a" stroke-width="0.9"/>
<line x1="166.02" y1="254.85" x2="261.78" y2="182" stroke="#2a2a2a" stroke-width="0.9"/>
<line x1="33.24" y1="203.7" x2="30.04" y2="204" stroke="#2a2a2a" stroke-width="0.7"/>
<line x1="32.18" y1="193.91" x2="30.38" y2="194.21" stroke="#2a2a2a" stroke-width="0.7"/>
<line x1="31.09" y1="184.01" x2="27.89" y2="184.31" stroke="#2a2a2a" stroke-width="0.7"/>
<line x1="30" y1="173.99" x2="28.2" y2="174.29" stroke="#2a2a2a" stroke-width="0.7"/>
<line x1="28.89" y1="163.84" x2="25.69" y2="164.14" stroke="#2a2a2a" stroke-width="0.7"/>
<line x1="27.77" y1="153.57" x2="25.97" y2="153.87" stroke="#2a2a2a" stroke-width="0.7"/>
<line x1="26.64" y1="143.18" x2="23.44" y2="143.48" stroke="#2a2a2a" stroke-width="0.7"/>
<line x1="25.49" y1="132.66" x2="23.69" y2="132.96" stroke="#2a2a2a" stroke-width="0.7"/>
<line x1="24.33" y1="122.01" x2="21.13" y2="122.31" stroke="#2a2a2a" stroke-width="0.7"/>
<line x1="23.15" y1="111.23" x2="21.35" y2="111.53" stroke="#2a2a2a" stroke-width="0.7"/>
<line x1="21.96" y1="100.32" x2="18.76" y2="100.62" stroke="#2a2a2a" stroke-width="0.7"/>
<line x1="20.75" y1="89.26" x2="18.95" y2="89.56" stroke="#2a2a2a" stroke-width="0.7"/>
<line x1="19.53" y1="78.07" x2="16.33" y2="78.37" stroke="#2a2a2a" stroke-width="0.7"/>
<line x1="18.29" y1="66.73" x2="16.49" y2="67.03" stroke="#2a2a2a" stroke-width="0.7"/>
<line x1="17.04" y1="55.25" x2="13.84" y2="55.55" stroke="#2a2a2a" stroke-width="0.7"/>
<line x1="15.77" y1="43.63" x2="13.97" y2="43.93" stroke="#2a2a2a" stroke-width="0.7"/>
<line x1="36.28" y1="204.87" x2="33.4" y2="206.5" stroke="#2a2a2a" stroke-width="0.7"/>
<line x1="39.36" y1="206.06" x2="37.8" y2="206.94" stroke="#2a2a2a" stroke-width="0.7"/>
<line x1="42.45" y1="207.25" x2="39.58" y2="208.9" stroke="#2a2a2a" stroke-width="0.7"/>
<line x1="45.57" y1="208.45" x2="44.02" y2="209.35" stroke="#2a2a2a" stroke-width="0.7"/>
<line x1="48.71" y1="209.66" x2="45.84" y2="211.33" stroke="#2a2a2a" stroke-width="0.7"/>
<line x1="51.86" y1="210.87" x2="50.31" y2="211.78" stroke="#2a2a2a" stroke-width="0.7"/>
<line x1="55.04" y1="212.1" x2="52.18" y2="213.79" stroke="#2a2a2a" stroke-width="0.7"/>
<line x1="58.24" y1="213.33" x2="56.69" y2="214.25" stroke="#2a2a2a" stroke-width="0.7"/>
<line x1="61.46" y1="214.57" x2="58.6" y2="216.28" stroke="#2a2a2a" stroke-width="0.7"/>
<line x1="64.7" y1="215.82" x2="63.16" y2="216.75" stroke="#2a2a2a" stroke-width="0.7"/>
<line x1="67.97" y1="217.08" x2="65.11" y2="218.81" stroke="#2a2a2a" stroke-width="0.7"/>
<line x1="71.25" y1="218.34" x2="69.71" y2="219.28" stroke="#2a2a2a" stroke-width="0.7"/>
<line x1="74.56" y1="219.61" x2="71.71" y2="221.37" stroke="#2a2a2a" stroke-width="0.7"/>
<line x1="77.89" y1="220.9" x2="76.35" y2="221.85" stroke="#2a2a2a" stroke-width="0.7"/>
<line x1="81.24" y1="222.19" x2="78.4" y2="223.96" stroke="#2a2a2a" stroke-width="0.7"/>
<line x1="84.62" y1="223.49" x2="83.08" y2="224.45" stroke="#2a2a2a" stroke-width="0.7"/>
<line x1="88.01" y1="224.8" x2="85.18" y2="226.6" stroke="#2a2a2a" stroke-width="0.7"/>
<line x1="91.43" y1="226.12" x2="89.91" y2="227.09" stroke="#2a2a2a" stroke-width="0.7"/>
<line x1="94.88" y1="227.44" x2="92.06" y2="229.26" stroke="#2a2a2a" stroke-width="0.7"/>
<line x1="98.35" y1="228.78" x2="96.82" y2="229.77" stroke="#2a2a2a" stroke-width="0.7"/>
<line x1="101.84" y1="230.12" x2="99.03" y2="231.97" stroke="#2a2a2a" stroke-width="0.7"/>
<line x1="105.36" y1="231.48" x2="103.84" y2="232.48" stroke="#2a2a2a" stroke-width="0.7"/>
<line x1="108.9" y1="232.84" x2="106.09" y2="234.71" stroke="#2a2a2a" stroke-width="0.7"/>
<line x1="112.46" y1="234.22" x2="110.95" y2="235.23" stroke="#2a2a2a" stroke-width="0.7"/>
<line x1="116.05" y1="235.6" x2="113.26" y2="237.49" stroke="#2a2a2a" stroke-width="0.7"/>
<line x1="119.67" y1="236.99" x2="118.16" y2="238.02" stroke="#2a2a2a" stroke-width="0.7"/>
<line x1="123.31" y1="238.39" x2="120.53" y2="240.31" stroke="#2a2a2a" stroke-width="0.7"/>
<line x1="126.98" y1="239.81" x2="125.48" y2="240.85" stroke="#2a2a2a" stroke-width="0.7"/>
<line x1="130.67" y1="241.23" x2="127.9" y2="243.17" stroke="#2a2a2a" stroke-width="0.7"/>
<line x1="134.39" y1="242.66" x2="132.9" y2="243.72" stroke="#2a2a2a" stroke-width="0.7"/>
<line x1="138.14" y1="244.11" x2="135.38" y2="246.08" stroke="#2a2a2a" stroke-width="0.7"/>
<line x1="141.91" y1="245.56" x2="140.42" y2="246.63" stroke="#2a2a2a" stroke-width="0.7"/>
<line x1="145.71" y1="247.02" x2="142.96" y2="249.02" stroke="#2a2a2a" stroke-width="0.7"/>
<line x1="149.54" y1="248.5" x2="148.06" y2="249.58" stroke="#2a2a2a" stroke-width="0.7"/>
<line x1="153.4" y1="249.98" x2="150.66" y2="252.01" stroke="#2a2a2a" stroke-width="0.7"/>
<line x1="157.28" y1="251.48" x2="155.81" y2="252.58" stroke="#2a2a2a" stroke-width="0.7"/>
<line x1="161.2" y1="252.99" x2="158.47" y2="255.04" stroke="#2a2a2a" stroke-width="0.7"/>
<line x1="166.02" y1="254.85" x2="167.84" y2="255.55" stroke="#2a2a2a" stroke-width="0.7"/>
<line x1="169.95" y1="251.85" x2="173.59" y2="253.24" stroke="#2a2a2a" stroke-width="0.7"/>
<line x1="173.84" y1="248.9" x2="175.65" y2="249.58" stroke="#2a2a2a" stroke-width="0.7"/>
<line x1="177.67" y1="245.98" x2="181.29" y2="247.33" stroke="#2a2a2a" stroke-width="0.7"/>
<line x1="181.46" y1="243.1" x2="183.27" y2="243.76" stroke="#2a2a2a" stroke-width="0.7"/>
<line x1="185.21" y1="240.25" x2="188.81" y2="241.56" stroke="#2a2a2a" stroke-width="0.7"/>
<line x1="188.91" y1="237.43" x2="190.7" y2="238.08" stroke="#2a2a2a" stroke-width="0.7"/>
<line x1="192.56" y1="234.65" x2="194.35" y2="235.29" stroke="#2a2a2a" stroke-width="0.7"/>
<line x1="196.17" y1="231.91" x2="199.74" y2="233.17" stroke="#2a2a2a" stroke-width="0.7"/>
<line x1="199.74" y1="229.19" x2="201.52" y2="229.82" stroke="#2a2a2a" stroke-width="0.7"/>
<line x1="203.27" y1="226.51" x2="206.82" y2="227.74" stroke="#2a2a2a" stroke-width="0.7"/>
<line x1="206.76" y1="223.86" x2="208.52" y2="224.47" stroke="#2a2a2a" stroke-width="0.7"/>
<line x1="210.2" y1="221.24" x2="211.96" y2="221.84" stroke="#2a2a2a" stroke-width="0.7"/>
<line x1="213.61" y1="218.65" x2="217.13" y2="219.83" stroke="#2a2a2a" stroke-width="0.7"/>
<line x1="216.97" y1="216.09" x2="218.73" y2="216.67" stroke="#2a2a2a" stroke-width="0.7"/>
<line x1="220.3" y1="213.56" x2="222.05" y2="214.13" stroke="#2a2a2a" stroke-width="0.7"/>
<line x1="223.59" y1="211.05" x2="225.33" y2="211.62" stroke="#2a2a2a" stroke-width="0.7"/>
<line x1="226.84" y1="208.58" x2="228.58" y2="209.14" stroke="#2a2a2a" stroke-width="0.7"/>
<line x1="230.06" y1="206.13" x2="233.53" y2="207.25" stroke="#2a2a2a" stroke-width="0.7"/>
<line x1="233.24" y1="203.71" x2="234.97" y2="204.26" stroke="#2a2a2a" stroke-width="0.7"/>
<line x1="236.39" y1="201.32" x2="238.11" y2="201.86" stroke="#2a2a2a" stroke-width="0.7"/>
<line x1="239.5" y1="198.95" x2="241.22" y2="199.49" stroke="#2a2a2a" stroke-width="0.7"/>
<line x1="242.57" y1="196.61" x2="244.29" y2="197.14" stroke="#2a2a2a" stroke-width="0.7"/>
<line x1="245.62" y1="194.3" x2="249.04" y2="195.35" stroke="#2a2a2a" stroke-width="0.7"/>
<line x1="248.63" y1="192.01" x2="250.33" y2="192.53" stroke="#2a2a2a" stroke-width="0.7"/>
<line x1="251.6" y1="189.74" x2="253.3" y2="190.25" stroke="#2a2a2a" stroke-width="0.7"/>
<line x1="254.55" y1="187.5" x2="256.24" y2="188.01" stroke="#2a2a2a" stroke-width="0.7"/>
<line x1="257.46" y1="185.29" x2="259.15" y2="185.79" stroke="#2a2a2a" stroke-width="0.7"/>
<line x1="260.35" y1="183.09" x2="263.72" y2="184.08" stroke="#2a2a2a" stroke-width="0.7"/>
</g>
<g font-family="Liberation Serif, serif" font-size="7.3" fill="#606060" font-style="italic">
<text transform="translate(28.04,206.9) rotate(-14)" text-anchor="middle" dy="2.3" font-size="6.3">0</text>
<text transform="translate(25.89,187.21) rotate(-14)" text-anchor="middle" dy="2.3" font-size="6.48">2</text>
<text transform="translate(23.69,167.04) rotate(-14)" text-anchor="middle" dy="2.3" font-size="6.66">4</text>
<text transform="translate(21.44,146.38) rotate(-14)" text-anchor="middle" dy="2.3" font-size="6.84">6</text>
<text transform="translate(19.13,125.21) rotate(-14)" text-anchor="middle" dy="2.3" font-size="7.02">8</text>
<text transform="translate(16.76,103.52) rotate(-14)" text-anchor="middle" dy="2.3" font-size="7.2">10</text>
<text transform="translate(14.33,81.27) rotate(-14)" text-anchor="middle" dy="2.3" font-size="7.38">12</text>
<text transform="translate(11.84,58.45) rotate(-14)" text-anchor="middle" dy="2.3" font-size="7.56">14</text>
</g>
<g font-family="Liberation Serif, serif" fill="#555">
<text transform="matrix(0.784,-0.621,0.5,0.8,29.03,210.79)" text-anchor="middle" font-size="6" font-style="italic">4.1</text>
<text transform="matrix(0.784,-0.621,0.5,0.8,35.2,213.49)" text-anchor="middle" font-size="6" font-style="italic">4.4</text>
<text transform="matrix(0.784,-0.621,0.5,0.8,41.46,216.23)" text-anchor="middle" font-size="6" font-style="italic">4.6</text>
<text transform="matrix(0.784,-0.621,0.5,0.8,54.21,221.79)" text-anchor="middle" font-size="6" font-style="italic">5.1</text>
<text transform="matrix(0.784,-0.621,0.5,0.8,67.31,227.48)" text-anchor="middle" font-size="6" font-style="italic">5.6</text>
<text transform="matrix(0.784,-0.621,0.5,0.8,80.76,233.32)" text-anchor="middle" font-size="6" font-style="italic">6.1</text>
<text transform="matrix(0.784,-0.621,0.5,0.8,94.59,238.64)" text-anchor="middle" font-size="6" font-style="italic">6.7</text>
<text transform="matrix(0.784,-0.621,0.5,0.8,108.8,244.12)" text-anchor="middle" font-size="6" font-style="italic">7.2</text>
<text transform="matrix(0.784,-0.621,0.5,0.8,123.42,249.75)" text-anchor="middle" font-size="6" font-style="italic">7.8</text>
<text transform="matrix(0.784,-0.621,0.5,0.8,130.89,252.63)" text-anchor="middle" font-size="6" font-style="italic">8.1</text>
<text transform="matrix(0.784,-0.621,0.5,0.8,138.46,255.54)" text-anchor="middle" font-size="6" font-style="italic">8.3</text>
<text transform="matrix(0.784,-0.621,0.5,0.8,146.15,258.5)" text-anchor="middle" font-size="6" font-style="italic">8.6</text>
<text transform="matrix(0.784,-0.621,0.5,0.8,153.95,261.51)" text-anchor="middle" font-size="6" font-style="italic">8.9</text>
<text transform="matrix(0.921,0.389,-0.3,0.9,175.65,257.85)" text-anchor="middle" font-size="6.4" font-style="italic">4</text>
<text transform="matrix(0.921,0.389,-0.3,0.9,183.37,251.98)" text-anchor="middle" font-size="6.4" font-style="italic">6</text>
<text transform="matrix(0.921,0.389,-0.3,0.9,190.91,246.25)" text-anchor="middle" font-size="6.4" font-style="italic">8</text>
<text transform="matrix(0.921,0.389,-0.3,0.9,201.87,237.91)" text-anchor="middle" font-size="6.4" font-style="italic">11</text>
<text transform="matrix(0.921,0.389,-0.3,0.9,208.97,232.51)" text-anchor="middle" font-size="6.4" font-style="italic">13</text>
<text transform="matrix(0.921,0.389,-0.3,0.9,219.31,224.65)" text-anchor="middle" font-size="6.4" font-style="italic">16</text>
<text transform="matrix(0.921,0.389,-0.3,0.9,235.76,212.13)" text-anchor="middle" font-size="6.4" font-style="italic">21</text>
<text transform="matrix(0.921,0.389,-0.3,0.9,251.32,200.3)" text-anchor="middle" font-size="6.4" font-style="italic">26</text>
<text transform="matrix(0.921,0.389,-0.3,0.9,266.05,189.09)" text-anchor="middle" font-size="6.4" font-style="italic">31</text>
</g>
<g font-family="Liberation Serif, serif" font-weight="bold" fill="#111">
<text transform="matrix(0.108,0.994,-0.9,0.098,2.2,92)" font-size="8.35" textLength="85" lengthAdjust="spacingAndGlyphs" stroke="#111" stroke-width="0.15">Active porwer P<tspan font-size="5.5" dy="1.5">harn</tspan><tspan dy="-1.5"> (W)</tspan></text>
<text transform="matrix(0.921,0.389,-0.713,0.565,45.2,227.2)" font-size="8.1" font-style="italic" stroke="#111" stroke-width="0.2">Reduced velocity (U<tspan font-size="5.3" dy="1.5">r</tspan><tspan dy="-1.5">)</tspan></text>
<text transform="matrix(0.784,-0.621,0.2,1.0,215.4,241.3)" font-size="6.6" fill="#222">Load resistance(Ω)</text>
</g>
<rect x="291" y="224.77" width="11.7" height="29.62" fill="#660066"/>
<rect x="291" y="195.35" width="11.7" height="29.62" fill="#0000ff"/>
<rect x="291" y="165.93" width="11.7" height="29.62" fill="#00f6b0"/>
<rect x="291" y="136.5" width="11.7" height="29.62" fill="#a8ff00"/>
<rect x="291" y="107.07" width="11.7" height="29.62" fill="#ff9a00"/>
<rect x="291" y="77.65" width="11.7" height="29.62" fill="#ff0000"/>
<rect x="291" y="48.23" width="11.7" height="29.62" fill="#cc0000"/>
<rect x="291" y="18.8" width="11.7" height="29.62" fill="#660000"/>
<rect x="291" y="18.8" width="11.7" height="235.4" fill="none" stroke="#444" stroke-width="0.5"/>
<g font-family="Liberation Serif, serif" font-size="5.7" fill="#333">
<line x1="302.7" y1="254.2" x2="305.3" y2="254.2" stroke="#333" stroke-width="0.6"/>
<text x="320.9" y="256.1" text-anchor="end">0.<tspan dx="1.1">000</tspan></text>
<line x1="302.7" y1="224.77" x2="305.3" y2="224.77" stroke="#333" stroke-width="0.6"/>
<text x="320.9" y="226.67" text-anchor="end">1.<tspan dx="1.1">756</tspan></text>
<line x1="302.7" y1="195.35" x2="305.3" y2="195.35" stroke="#333" stroke-width="0.6"/>
<text x="320.9" y="197.25" text-anchor="end">3.<tspan dx="1.1">513</tspan></text>
<line x1="302.7" y1="165.93" x2="305.3" y2="165.93" stroke="#333" stroke-width="0.6"/>
<text x="320.9" y="167.83" text-anchor="end">5.<tspan dx="1.1">269</tspan></text>
<line x1="302.7" y1="136.5" x2="305.3" y2="136.5" stroke="#333" stroke-width="0.6"/>
<text x="320.9" y="138.4" text-anchor="end">7.<tspan dx="1.1">025</tspan></text>
<line x1="302.7" y1="107.07" x2="305.3" y2="107.07" stroke="#333" stroke-width="0.6"/>
<text x="320.9" y="108.97" text-anchor="end">8.<tspan dx="1.1">781</tspan></text>
<line x1="302.7" y1="77.65" x2="305.3" y2="77.65" stroke="#333" stroke-width="0.6"/>
<text x="320.9" y="79.55" text-anchor="end">10.<tspan dx="1.1">54</tspan></text>
<line x1="302.7" y1="48.23" x2="305.3" y2="48.23" stroke="#333" stroke-width="0.6"/>
<text x="320.9" y="50.13" text-anchor="end">12.<tspan dx="1.1">29</tspan></text>
<line x1="302.7" y1="18.8" x2="305.3" y2="18.8" stroke="#333" stroke-width="0.6"/>
<text x="320.9" y="20.7" text-anchor="end">14.<tspan dx="1.1">05</tspan></text>
</g>
<g font-family="DejaVu Sans Mono, Liberation Mono, monospace" font-size="17" fill="#111">
<text x="171.2" y="310.8" text-anchor="middle"><tspan font-size="18.6" dy="0.7">(</tspan><tspan dy="-0.7">a</tspan><tspan font-size="18.6" dy="0.7">)</tspan></text>
<text x="539.6" y="310.8" text-anchor="middle"><tspan font-size="18.6" dy="0.7">(</tspan><tspan dy="-0.7">b</tspan><tspan font-size="18.6" dy="0.7">)</tspan></text>
</g>
<g fill="none">
<line x1="442.75" y1="10.4" x2="442.75" y2="233.3" stroke="#d2d2d2" stroke-width="0.8"/>
<line x1="485.5" y1="10.4" x2="485.5" y2="233.3" stroke="#d2d2d2" stroke-width="0.8"/>
<line x1="528.25" y1="10.4" x2="528.25" y2="233.3" stroke="#d2d2d2" stroke-width="0.8"/>
<line x1="571" y1="10.4" x2="571" y2="233.3" stroke="#d2d2d2" stroke-width="0.8"/>
<line x1="613.75" y1="10.4" x2="613.75" y2="233.3" stroke="#d2d2d2" stroke-width="0.8"/>
<line x1="656.5" y1="10.4" x2="656.5" y2="233.3" stroke="#d2d2d2" stroke-width="0.8"/>
<line x1="400" y1="205.44" x2="677.7" y2="205.44" stroke="#d2d2d2" stroke-width="0.8"/>
<line x1="400" y1="177.58" x2="677.7" y2="177.58" stroke="#d2d2d2" stroke-width="0.8"/>
<line x1="400" y1="149.71" x2="677.7" y2="149.71" stroke="#d2d2d2" stroke-width="0.8"/>
<line x1="400" y1="121.85" x2="677.7" y2="121.85" stroke="#d2d2d2" stroke-width="0.8"/>
<line x1="400" y1="93.99" x2="677.7" y2="93.99" stroke="#d2d2d2" stroke-width="0.8"/>
<line x1="400" y1="66.12" x2="677.7" y2="66.12" stroke="#d2d2d2" stroke-width="0.8"/>
<line x1="400" y1="38.26" x2="677.7" y2="38.26" stroke="#d2d2d2" stroke-width="0.8"/>
</g>
<polyline fill="none" stroke="#404040" stroke-width="0.55" stroke-opacity="0.62" points="459.85,227.73 468.4,219.37 489.77,124.91 511.15,80.06 532.52,60.55 558.17,73.65 579.55,64.73 605.2,61.11 618.02,68.63 626.58,74.48 639.4,80.33 652.23,93.99"/>
<polyline fill="none" stroke="#e8373d" stroke-width="0.55" stroke-opacity="0.62" points="459.85,229.12 468.4,223.55 489.77,124.91 511.15,64.73 532.52,46.62 558.17,41.61 579.55,33.8 605.2,44.95 618.02,52.75 626.58,65.85 639.4,75.04 652.23,79.5"/>
<polyline fill="none" stroke="#1f5fd0" stroke-width="0.55" stroke-opacity="0.62" points="459.85,226.33 468.4,220.76 489.77,159.19 511.15,80.61 532.52,56.09 558.17,63.9 579.55,54.7 605.2,65.85 618.02,81.45 626.58,86.46 639.4,94.54 652.23,102.62"/>
<polyline fill="none" stroke="#2ca05a" stroke-width="0.55" stroke-opacity="0.62" points="459.85,219.37 468.4,212.4 489.77,138.01 511.15,77.83 532.52,58.04 558.17,68.35 579.55,64.73 605.2,77.83 618.02,84.24 626.58,93.43 639.4,104.02 652.23,109.59"/>
<polyline fill="none" stroke="#a05ae0" stroke-width="0.55" stroke-opacity="0.62" points="459.85,224.94 468.4,216.58 489.77,128.54 511.15,90.37 532.52,63.34 558.17,66.68 579.55,70.3 605.2,86.46 618.02,93.43 626.58,101.51 639.4,115.72 652.23,121.01"/>
<polyline fill="none" stroke="#d09a10" stroke-width="0.55" stroke-opacity="0.62" points="459.85,226.33 468.4,213.8 489.77,132.44 511.15,83.96 532.52,68.91 558.17,71.7 579.55,76.16 605.2,86.46 618.02,100.4 626.58,108.48 639.4,121.01 652.23,129.37"/>
<polyline fill="none" stroke="#18c8d0" stroke-width="0.55" stroke-opacity="0.62" points="459.85,220.76 468.4,215.19 489.77,144.14 511.15,99 532.52,84.79 558.17,90.37 579.55,95.38 605.2,103.74 618.02,115.44 626.58,121.85 639.4,133 652.23,139.12"/>
<polyline fill="none" stroke="#7a4038" stroke-width="0.55" stroke-opacity="0.62" points="459.85,229.68 468.4,217.14 489.77,166.99 511.15,130.21 532.52,110.15 558.17,112.1 579.55,114.05 605.2,127.98 618.02,129.65 626.58,136.34 639.4,143.3 652.23,146.09"/>
<polyline fill="none" stroke="#8c8c14" stroke-width="0.55" stroke-opacity="0.62" points="459.85,224.94 468.4,211.01 489.77,153.06 511.15,124.08 532.52,116.56 558.17,119.06 579.55,123.8 605.2,133.27 618.02,137.45 626.58,145.25 639.4,152.22 652.23,162.53"/>
<rect x="457.35" y="225.23" width="5" height="5" fill="#404040"/>
<rect x="465.9" y="216.87" width="5" height="5" fill="#404040"/>
<rect x="487.27" y="122.41" width="5" height="5" fill="#404040"/>
<rect x="508.65" y="77.56" width="5" height="5" fill="#404040"/>
<rect x="530.02" y="58.05" width="5" height="5" fill="#404040"/>
<rect x="555.67" y="71.15" width="5" height="5" fill="#404040"/>
<rect x="577.05" y="62.23" width="5" height="5" fill="#404040"/>
<rect x="602.7" y="58.61" width="5" height="5" fill="#404040"/>
<rect x="615.52" y="66.13" width="5" height="5" fill="#404040"/>
<rect x="624.08" y="71.98" width="5" height="5" fill="#404040"/>
<rect x="636.9" y="77.83" width="5" height="5" fill="#404040"/>
<rect x="649.73" y="91.49" width="5" height="5" fill="#404040"/>
<circle cx="459.85" cy="229.12" r="3" fill="#e8373d"/>
<circle cx="468.4" cy="223.55" r="3" fill="#e8373d"/>
<circle cx="489.77" cy="124.91" r="3" fill="#e8373d"/>
<circle cx="511.15" cy="64.73" r="3" fill="#e8373d"/>
<circle cx="532.52" cy="46.62" r="3" fill="#e8373d"/>
<circle cx="558.17" cy="41.61" r="3" fill="#e8373d"/>
<circle cx="579.55" cy="33.8" r="3" fill="#e8373d"/>
<circle cx="605.2" cy="44.95" r="3" fill="#e8373d"/>
<circle cx="618.02" cy="52.75" r="3" fill="#e8373d"/>
<circle cx="626.58" cy="65.85" r="3" fill="#e8373d"/>
<circle cx="639.4" cy="75.04" r="3" fill="#e8373d"/>
<circle cx="652.23" cy="79.5" r="3" fill="#e8373d"/>
<path d="M459.85,223.03 L463.25,228.73 L456.45,228.73Z" fill="#1f5fd0"/>
<path d="M468.4,217.46 L471.8,223.16 L465,223.16Z" fill="#1f5fd0"/>
<path d="M489.77,155.89 L493.17,161.59 L486.38,161.59Z" fill="#1f5fd0"/>
<path d="M511.15,77.31 L514.55,83.01 L507.75,83.01Z" fill="#1f5fd0"/>
<path d="M532.52,52.79 L535.92,58.49 L529.12,58.49Z" fill="#1f5fd0"/>
<path d="M558.17,60.6 L561.57,66.3 L554.77,66.3Z" fill="#1f5fd0"/>
<path d="M579.55,51.4 L582.95,57.1 L576.15,57.1Z" fill="#1f5fd0"/>
<path d="M605.2,62.55 L608.6,68.25 L601.8,68.25Z" fill="#1f5fd0"/>
<path d="M618.02,78.15 L621.42,83.85 L614.62,83.85Z" fill="#1f5fd0"/>
<path d="M626.58,83.16 L629.98,88.86 L623.18,88.86Z" fill="#1f5fd0"/>
<path d="M639.4,91.24 L642.8,96.94 L636,96.94Z" fill="#1f5fd0"/>
<path d="M652.23,99.32 L655.62,105.02 L648.83,105.02Z" fill="#1f5fd0"/>
<path d="M459.85,222.67 L463.25,216.97 L456.45,216.97Z" fill="#2ca05a"/>
<path d="M468.4,215.7 L471.8,210 L465,210Z" fill="#2ca05a"/>
<path d="M489.77,141.31 L493.17,135.61 L486.38,135.61Z" fill="#2ca05a"/>
<path d="M511.15,81.13 L514.55,75.43 L507.75,75.43Z" fill="#2ca05a"/>
<path d="M532.52,61.34 L535.92,55.64 L529.12,55.64Z" fill="#2ca05a"/>
<path d="M558.17,71.65 L561.57,65.95 L554.77,65.95Z" fill="#2ca05a"/>
<path d="M579.55,68.03 L582.95,62.33 L576.15,62.33Z" fill="#2ca05a"/>
<path d="M605.2,81.13 L608.6,75.43 L601.8,75.43Z" fill="#2ca05a"/>
<path d="M618.02,87.54 L621.42,81.84 L614.62,81.84Z" fill="#2ca05a"/>
<path d="M626.58,96.73 L629.98,91.03 L623.18,91.03Z" fill="#2ca05a"/>
<path d="M639.4,107.32 L642.8,101.62 L636,101.62Z" fill="#2ca05a"/>
<path d="M652.23,112.89 L655.62,107.19 L648.83,107.19Z" fill="#2ca05a"/>
<path d="M459.85,221.34 L462.85,224.94 L459.85,228.54 L456.85,224.94Z" fill="#a05ae0"/>
<path d="M468.4,212.98 L471.4,216.58 L468.4,220.18 L465.4,216.58Z" fill="#a05ae0"/>
<path d="M489.77,124.94 L492.77,128.54 L489.77,132.14 L486.77,128.54Z" fill="#a05ae0"/>
<path d="M511.15,86.77 L514.15,90.37 L511.15,93.97 L508.15,90.37Z" fill="#a05ae0"/>
<path d="M532.52,59.74 L535.52,63.34 L532.52,66.94 L529.52,63.34Z" fill="#a05ae0"/>
<path d="M558.17,63.08 L561.17,66.68 L558.17,70.28 L555.17,66.68Z" fill="#a05ae0"/>
<path d="M579.55,66.7 L582.55,70.3 L579.55,73.9 L576.55,70.3Z" fill="#a05ae0"/>
<path d="M605.2,82.86 L608.2,86.46 L605.2,90.06 L602.2,86.46Z" fill="#a05ae0"/>
<path d="M618.02,89.83 L621.02,93.43 L618.02,97.03 L615.02,93.43Z" fill="#a05ae0"/>
<path d="M626.58,97.91 L629.58,101.51 L626.58,105.11 L623.58,101.51Z" fill="#a05ae0"/>
<path d="M639.4,112.12 L642.4,115.72 L639.4,119.32 L636.4,115.72Z" fill="#a05ae0"/>
<path d="M652.23,117.41 L655.23,121.01 L652.23,124.61 L649.23,121.01Z" fill="#a05ae0"/>
<path d="M456.55,226.33 L462.25,222.93 L462.25,229.73Z" fill="#d09a10"/>
<path d="M465.1,213.8 L470.8,210.4 L470.8,217.2Z" fill="#d09a10"/>
<path d="M486.47,132.44 L492.17,129.04 L492.17,135.84Z" fill="#d09a10"/>
<path d="M507.85,83.96 L513.55,80.56 L513.55,87.36Z" fill="#d09a10"/>
<path d="M529.23,68.91 L534.92,65.51 L534.92,72.31Z" fill="#d09a10"/>
<path d="M554.88,71.7 L560.57,68.3 L560.57,75.1Z" fill="#d09a10"/>
<path d="M576.25,76.16 L581.95,72.76 L581.95,79.56Z" fill="#d09a10"/>
<path d="M601.9,86.46 L607.6,83.06 L607.6,89.86Z" fill="#d09a10"/>
<path d="M614.73,100.4 L620.42,97 L620.42,103.8Z" fill="#d09a10"/>
<path d="M623.28,108.48 L628.98,105.08 L628.98,111.88Z" fill="#d09a10"/>
<path d="M636.1,121.01 L641.8,117.61 L641.8,124.41Z" fill="#d09a10"/>
<path d="M648.93,129.37 L654.62,125.97 L654.62,132.77Z" fill="#d09a10"/>
<path d="M463.15,220.76 L457.45,217.36 L457.45,224.16Z" fill="#18c8d0"/>
<path d="M471.7,215.19 L466,211.79 L466,218.59Z" fill="#18c8d0"/>
<path d="M493.07,144.14 L487.38,140.74 L487.38,147.54Z" fill="#18c8d0"/>
<path d="M514.45,99 L508.75,95.6 L508.75,102.4Z" fill="#18c8d0"/>
<path d="M535.82,84.79 L530.12,81.39 L530.12,88.19Z" fill="#18c8d0"/>
<path d="M561.47,90.37 L555.77,86.97 L555.77,93.77Z" fill="#18c8d0"/>
<path d="M582.85,95.38 L577.15,91.98 L577.15,98.78Z" fill="#18c8d0"/>
<path d="M608.5,103.74 L602.8,100.34 L602.8,107.14Z" fill="#18c8d0"/>
<path d="M621.32,115.44 L615.62,112.04 L615.62,118.84Z" fill="#18c8d0"/>
<path d="M629.88,121.85 L624.18,118.45 L624.18,125.25Z" fill="#18c8d0"/>
<path d="M642.7,133 L637,129.59 L637,136.4Z" fill="#18c8d0"/>
<path d="M655.52,139.12 L649.83,135.72 L649.83,142.52Z" fill="#18c8d0"/>
<path d="M463.05,229.68 L461.45,232.45 L458.25,232.45 L456.65,229.68 L458.25,226.91 L461.45,226.91Z" fill="#7a4038"/>
<path d="M471.6,217.14 L470,219.91 L466.8,219.91 L465.2,217.14 L466.8,214.37 L470,214.37Z" fill="#7a4038"/>
<path d="M492.97,166.99 L491.38,169.76 L488.17,169.76 L486.57,166.99 L488.17,164.22 L491.38,164.22Z" fill="#7a4038"/>
<path d="M514.35,130.21 L512.75,132.98 L509.55,132.98 L507.95,130.21 L509.55,127.44 L512.75,127.44Z" fill="#7a4038"/>
<path d="M535.73,110.15 L534.12,112.92 L530.92,112.92 L529.32,110.15 L530.92,107.38 L534.12,107.38Z" fill="#7a4038"/>
<path d="M561.38,112.1 L559.77,114.87 L556.57,114.87 L554.97,112.1 L556.57,109.33 L559.77,109.33Z" fill="#7a4038"/>
<path d="M582.75,114.05 L581.15,116.82 L577.95,116.82 L576.35,114.05 L577.95,111.28 L581.15,111.28Z" fill="#7a4038"/>
<path d="M608.4,127.98 L606.8,130.75 L603.6,130.75 L602,127.98 L603.6,125.21 L606.8,125.21Z" fill="#7a4038"/>
<path d="M621.23,129.65 L619.62,132.42 L616.42,132.42 L614.82,129.65 L616.42,126.88 L619.62,126.88Z" fill="#7a4038"/>
<path d="M629.78,136.34 L628.18,139.11 L624.98,139.11 L623.38,136.34 L624.98,133.57 L628.18,133.57Z" fill="#7a4038"/>
<path d="M642.6,143.3 L641,146.08 L637.8,146.08 L636.2,143.3 L637.8,140.53 L641,140.53Z" fill="#7a4038"/>
<path d="M655.43,146.09 L653.83,148.86 L650.62,148.86 L649.02,146.09 L650.62,143.32 L653.83,143.32Z" fill="#7a4038"/>
<path d="M447.02,226.71 L447.97,229.22 L450.64,229.34 L448.55,231.01 L449.26,233.59 L447.02,232.11 L444.79,233.59 L445.5,231.01 L443.41,229.34 L446.08,229.22Z" fill="#8c8c14"/>
<path d="M459.85,221.14 L460.79,223.65 L463.46,223.77 L461.37,225.44 L462.08,228.02 L459.85,226.54 L457.62,228.02 L458.33,225.44 L456.24,223.77 L458.91,223.65Z" fill="#8c8c14"/>
<path d="M468.4,207.21 L469.34,209.72 L472.01,209.84 L469.92,211.5 L470.63,214.08 L468.4,212.61 L466.17,214.08 L466.88,211.5 L464.79,209.84 L467.46,209.72Z" fill="#8c8c14"/>
<path d="M489.77,149.26 L490.72,151.76 L493.39,151.88 L491.3,153.55 L492.01,156.13 L489.77,154.66 L487.54,156.13 L488.25,153.55 L486.16,151.88 L488.83,151.76Z" fill="#8c8c14"/>
<path d="M511.15,120.28 L512.09,122.78 L514.76,122.9 L512.67,124.57 L513.38,127.15 L511.15,125.68 L508.92,127.15 L509.63,124.57 L507.54,122.9 L510.21,122.78Z" fill="#8c8c14"/>
<path d="M532.52,112.76 L533.47,115.26 L536.14,115.38 L534.05,117.05 L534.76,119.63 L532.52,118.16 L530.29,119.63 L531,117.05 L528.91,115.38 L531.58,115.26Z" fill="#8c8c14"/>
<path d="M558.17,115.26 L559.12,117.77 L561.79,117.89 L559.7,119.56 L560.41,122.14 L558.17,120.66 L555.94,122.14 L556.65,119.56 L554.56,117.89 L557.23,117.77Z" fill="#8c8c14"/>
<path d="M579.55,120 L580.49,122.51 L583.16,122.63 L581.07,124.29 L581.78,126.87 L579.55,125.4 L577.32,126.87 L578.03,124.29 L575.94,122.63 L578.61,122.51Z" fill="#8c8c14"/>
<path d="M605.2,129.47 L606.14,131.98 L608.81,132.1 L606.72,133.77 L607.43,136.35 L605.2,134.87 L602.97,136.35 L603.68,133.77 L601.59,132.1 L604.26,131.98Z" fill="#8c8c14"/>
<path d="M618.02,133.65 L618.97,136.16 L621.64,136.28 L619.55,137.95 L620.26,140.53 L618.02,139.05 L615.79,140.53 L616.5,137.95 L614.41,136.28 L617.08,136.16Z" fill="#8c8c14"/>
<path d="M626.58,141.45 L627.52,143.96 L630.19,144.08 L628.1,145.75 L628.81,148.33 L626.58,146.85 L624.34,148.33 L625.05,145.75 L622.96,144.08 L625.63,143.96Z" fill="#8c8c14"/>
<path d="M639.4,148.42 L640.34,150.93 L643.01,151.05 L640.92,152.71 L641.63,155.29 L639.4,153.82 L637.17,155.29 L637.88,152.71 L635.79,151.05 L638.46,150.93Z" fill="#8c8c14"/>
<path d="M652.23,158.73 L653.17,161.23 L655.84,161.35 L653.75,163.02 L654.46,165.6 L652.23,164.13 L649.99,165.6 L650.7,163.02 L648.61,161.35 L651.28,161.23Z" fill="#8c8c14"/>
<rect x="400" y="10.4" width="277.7" height="222.9" fill="none" stroke="#3a3a3a" stroke-width="1"/>
<g stroke="#3a3a3a" stroke-width="0.9">
<line x1="400" y1="233.3" x2="400" y2="229.1"/>
<line x1="421.38" y1="233.3" x2="421.38" y2="231"/>
<line x1="442.75" y1="233.3" x2="442.75" y2="229.1"/>
<line x1="464.12" y1="233.3" x2="464.12" y2="231"/>
<line x1="485.5" y1="233.3" x2="485.5" y2="229.1"/>
<line x1="506.88" y1="233.3" x2="506.88" y2="231"/>
<line x1="528.25" y1="233.3" x2="528.25" y2="229.1"/>
<line x1="549.62" y1="233.3" x2="549.62" y2="231"/>
<line x1="571" y1="233.3" x2="571" y2="229.1"/>
<line x1="592.38" y1="233.3" x2="592.38" y2="231"/>
<line x1="613.75" y1="233.3" x2="613.75" y2="229.1"/>
<line x1="635.12" y1="233.3" x2="635.12" y2="231"/>
<line x1="656.5" y1="233.3" x2="656.5" y2="229.1"/>
<line x1="400" y1="233.3" x2="404.6" y2="233.3"/>
<line x1="400" y1="219.37" x2="402.6" y2="219.37"/>
<line x1="400" y1="205.44" x2="404.6" y2="205.44"/>
<line x1="400" y1="191.51" x2="402.6" y2="191.51"/>
<line x1="400" y1="177.58" x2="404.6" y2="177.58"/>
<line x1="400" y1="163.64" x2="402.6" y2="163.64"/>
<line x1="400" y1="149.71" x2="404.6" y2="149.71"/>
<line x1="400" y1="135.78" x2="402.6" y2="135.78"/>
<line x1="400" y1="121.85" x2="404.6" y2="121.85"/>
<line x1="400" y1="107.92" x2="402.6" y2="107.92"/>
<line x1="400" y1="93.99" x2="404.6" y2="93.99"/>
<line x1="400" y1="80.06" x2="402.6" y2="80.06"/>
<line x1="400" y1="66.12" x2="404.6" y2="66.12"/>
<line x1="400" y1="52.19" x2="402.6" y2="52.19"/>
<line x1="400" y1="38.26" x2="404.6" y2="38.26"/>
<line x1="400" y1="24.33" x2="402.6" y2="24.33"/>
<line x1="400" y1="10.4" x2="404.6" y2="10.4"/>
<line x1="400" y1="251.6" x2="679" y2="251.6"/>
<line x1="414.56" y1="251.6" x2="414.56" y2="249.4"/>
<line x1="430.2" y1="251.6" x2="430.2" y2="247.3"/>
<line x1="445.85" y1="251.6" x2="445.85" y2="249.4"/>
<line x1="461.49" y1="251.6" x2="461.49" y2="247.3"/>
<line x1="477.13" y1="251.6" x2="477.13" y2="249.4"/>
<line x1="492.78" y1="251.6" x2="492.78" y2="247.3"/>
<line x1="508.42" y1="251.6" x2="508.42" y2="249.4"/>
<line x1="524.07" y1="251.6" x2="524.07" y2="247.3"/>
<line x1="539.72" y1="251.6" x2="539.72" y2="249.4"/>
<line x1="555.36" y1="251.6" x2="555.36" y2="247.3"/>
<line x1="571" y1="251.6" x2="571" y2="249.4"/>
<line x1="586.65" y1="251.6" x2="586.65" y2="247.3"/>
<line x1="602.29" y1="251.6" x2="602.29" y2="249.4"/>
<line x1="617.94" y1="251.6" x2="617.94" y2="247.3"/>
<line x1="633.58" y1="251.6" x2="633.58" y2="249.4"/>
<line x1="649.23" y1="251.6" x2="649.23" y2="247.3"/>
<line x1="664.88" y1="251.6" x2="664.88" y2="249.4"/>
</g>
<g font-family="Liberation Serif, serif" font-size="9.6" fill="#222">
<text x="400" y="245.8" text-anchor="middle">3</text>
<text x="442.75" y="245.8" text-anchor="middle">4</text>
<text x="485.5" y="245.8" text-anchor="middle">5</text>
<text x="528.25" y="245.8" text-anchor="middle">6</text>
<text x="571" y="245.8" text-anchor="middle">7</text>
<text x="613.75" y="245.8" text-anchor="middle">8</text>
<text x="656.5" y="245.8" text-anchor="middle">9</text>
<text x="395.6" y="236.5" text-anchor="end">0</text>
<text x="395.6" y="208.64" text-anchor="end">1</text>
<text x="395.6" y="180.78" text-anchor="end">2</text>
<text x="395.6" y="152.91" text-anchor="end">3</text>
<text x="395.6" y="125.05" text-anchor="end">4</text>
<text x="395.6" y="97.19" text-anchor="end">5</text>
<text x="395.6" y="69.33" text-anchor="end">6</text>
<text x="395.6" y="41.46" text-anchor="end">7</text>
<text x="395.6" y="13.6" text-anchor="end">8</text>
<text x="430.2" y="263.9" text-anchor="middle">0.5</text>
<text x="461.49" y="263.9" text-anchor="middle">0.6</text>
<text x="492.78" y="263.9" text-anchor="middle">0.7</text>
<text x="524.07" y="263.9" text-anchor="middle">0.8</text>
<text x="555.36" y="263.9" text-anchor="middle">0.9</text>
<text x="586.65" y="263.9" text-anchor="middle">1.0</text>
<text x="617.94" y="263.9" text-anchor="middle">1.1</text>
<text x="649.23" y="263.9" text-anchor="middle">1.2</text>
</g>
<g font-family="Liberation Serif, serif" fill="#222">
<text x="362.6" y="245.8" font-size="12.5" font-style="italic">U<tspan font-size="8.5" dy="2.5">r</tspan></text>
<text x="351.4" y="263.5" font-size="11.8"><tspan font-style="italic">U</tspan> (m/s)</text>
<text transform="translate(374.8,190.3) rotate(-90)" font-size="10" textLength="143.3" lengthAdjust="spacingAndGlyphs">Energy conversion efficiency <tspan font-style="italic">η</tspan><tspan font-style="italic" font-size="6.5" dy="2">harn</tspan><tspan dy="-2"> (%)</tspan></text>
</g>
<rect x="412.6" y="17.7" width="47.4" height="110.6" fill="#fff" stroke="#b4b4b4" stroke-width="0.7"/>
<g font-family="Liberation Serif, serif" font-size="8" fill="#222">
<line x1="415.7" y1="23.9" x2="428.8" y2="23.9" stroke="#404040" stroke-width="0.55" stroke-opacity="0.55"/>
<rect x="419.7" y="21.4" width="5" height="5" fill="#404040"/>
<text x="430.6" y="26.6"><tspan font-style="italic">R</tspan><tspan font-style="italic" font-size="5.2" dy="1.6">L</tspan><tspan dy="-1.6">=4Ω</tspan></text>
<line x1="415.7" y1="36.24" x2="428.8" y2="36.24" stroke="#e8373d" stroke-width="0.55" stroke-opacity="0.55"/>
<circle cx="422.2" cy="36.24" r="3" fill="#e8373d"/>
<text x="430.6" y="38.94"><tspan font-style="italic">R</tspan><tspan font-style="italic" font-size="5.2" dy="1.6">L</tspan><tspan dy="-1.6">=6Ω</tspan></text>
<line x1="415.7" y1="48.58" x2="428.8" y2="48.58" stroke="#1f5fd0" stroke-width="0.55" stroke-opacity="0.55"/>
<path d="M422.2,45.28 L425.6,50.98 L418.8,50.98Z" fill="#1f5fd0"/>
<text x="430.6" y="51.28"><tspan font-style="italic">R</tspan><tspan font-style="italic" font-size="5.2" dy="1.6">L</tspan><tspan dy="-1.6">=8Ω</tspan></text>
<line x1="415.7" y1="60.92" x2="428.8" y2="60.92" stroke="#2ca05a" stroke-width="0.55" stroke-opacity="0.55"/>
<path d="M422.2,64.22 L425.6,58.52 L418.8,58.52Z" fill="#2ca05a"/>
<text x="430.6" y="63.62"><tspan font-style="italic">R</tspan><tspan font-style="italic" font-size="5.2" dy="1.6">L</tspan><tspan dy="-1.6">=11Ω</tspan></text>
<line x1="415.7" y1="73.26" x2="428.8" y2="73.26" stroke="#a05ae0" stroke-width="0.55" stroke-opacity="0.55"/>
<path d="M422.2,69.66 L425.2,73.26 L422.2,76.86 L419.2,73.26Z" fill="#a05ae0"/>
<text x="430.6" y="75.96"><tspan font-style="italic">R</tspan><tspan font-style="italic" font-size="5.2" dy="1.6">L</tspan><tspan dy="-1.6">=13Ω</tspan></text>
<line x1="415.7" y1="85.6" x2="428.8" y2="85.6" stroke="#d09a10" stroke-width="0.55" stroke-opacity="0.55"/>
<path d="M418.9,85.6 L424.6,82.2 L424.6,89Z" fill="#d09a10"/>
<text x="430.6" y="88.3"><tspan font-style="italic">R</tspan><tspan font-style="italic" font-size="5.2" dy="1.6">L</tspan><tspan dy="-1.6">=16Ω</tspan></text>
<line x1="415.7" y1="97.94" x2="428.8" y2="97.94" stroke="#18c8d0" stroke-width="0.55" stroke-opacity="0.55"/>
<path d="M425.5,97.94 L419.8,94.54 L419.8,101.34Z" fill="#18c8d0"/>
<text x="430.6" y="100.64"><tspan font-style="italic">R</tspan><tspan font-style="italic" font-size="5.2" dy="1.6">L</tspan><tspan dy="-1.6">=21Ω</tspan></text>
<line x1="415.7" y1="110.28" x2="428.8" y2="110.28" stroke="#7a4038" stroke-width="0.55" stroke-opacity="0.55"/>
<path d="M425.4,110.28 L423.8,113.05 L420.6,113.05 L419,110.28 L420.6,107.51 L423.8,107.51Z" fill="#7a4038"/>
<text x="430.6" y="112.98"><tspan font-style="italic">R</tspan><tspan font-style="italic" font-size="5.2" dy="1.6">L</tspan><tspan dy="-1.6">=26Ω</tspan></text>
<line x1="415.7" y1="122.62" x2="428.8" y2="122.62" stroke="#8c8c14" stroke-width="0.55" stroke-opacity="0.55"/>
<path d="M422.2,118.82 L423.14,121.33 L425.81,121.45 L423.72,123.11 L424.43,125.69 L422.2,124.22 L419.97,125.69 L420.68,123.11 L418.59,121.45 L421.26,121.33Z" fill="#8c8c14"/>
<text x="430.6" y="125.32"><tspan font-style="italic">R</tspan><tspan font-style="italic" font-size="5.2" dy="1.6">L</tspan><tspan dy="-1.6">=31Ω</tspan></text>
</g>
</svg>
</body></html>
